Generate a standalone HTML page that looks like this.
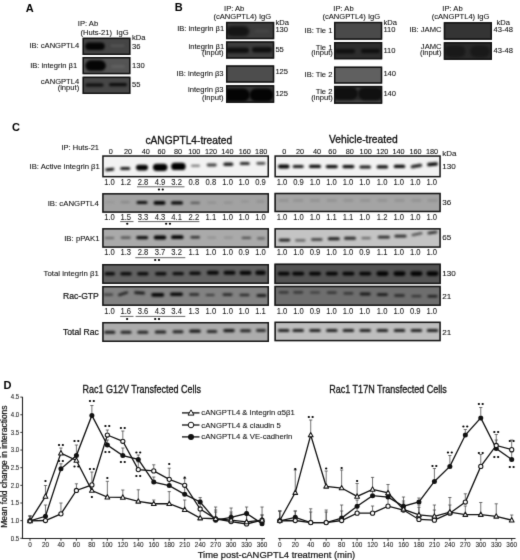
<!DOCTYPE html>
<html><head><meta charset="utf-8"><style>
html,body{margin:0;padding:0;background:#fff;}
body{width:520px;height:560px;overflow:hidden;}
svg{display:block;font-family:"Liberation Sans", sans-serif;}
</style></head><body>
<svg width="520" height="560" viewBox="0 0 520 560">
<defs>
<filter color-interpolation-filters="sRGB" id="bl1" x="-50%" y="-50%" width="200%" height="200%"><feGaussianBlur stdDeviation="0.9"/></filter>
<filter color-interpolation-filters="sRGB" id="bl1.2" x="-50%" y="-50%" width="200%" height="200%"><feGaussianBlur stdDeviation="1.2"/></filter>
<filter color-interpolation-filters="sRGB" id="gb0.7" x="-50%" y="-100%" width="200%" height="300%"><feGaussianBlur stdDeviation="0.95"/></filter>
<filter color-interpolation-filters="sRGB" id="f095" x="-50%" y="-100%" width="200%" height="300%"><feGaussianBlur stdDeviation="0.95"/></filter>
<filter color-interpolation-filters="sRGB" id="f10" x="-50%" y="-100%" width="200%" height="300%"><feGaussianBlur stdDeviation="1.0"/></filter>
<filter color-interpolation-filters="sRGB" id="f12" x="-50%" y="-100%" width="200%" height="300%"><feGaussianBlur stdDeviation="1.2"/></filter>
<filter color-interpolation-filters="sRGB" id="f15" x="-50%" y="-100%" width="200%" height="300%"><feGaussianBlur stdDeviation="1.5"/></filter>
<filter color-interpolation-filters="sRGB" id="bl1.5" x="-50%" y="-50%" width="200%" height="200%"><feGaussianBlur stdDeviation="1.5"/></filter>
<filter color-interpolation-filters="sRGB" id="gid" x="0" y="0" width="520" height="560" filterUnits="userSpaceOnUse"><feColorMatrix type="saturate" values="0"/><feConvolveMatrix order="3" kernelMatrix="1 8 1 8 64 8 1 8 1" divisor="100" edgeMode="duplicate" preserveAlpha="true"/></filter>
</defs>
<g filter="url(#gid)">
<rect x="0" y="0" width="520" height="560" fill="#fff"/>
<text x="25.80" y="11.60" font-size="11" text-anchor="start" font-weight="bold" fill="#000" >A</text>
<text x="88.00" y="26.00" font-size="7.6" text-anchor="middle" font-weight="normal" fill="#111" stroke="#111" stroke-width="0.08" >IP: Ab</text>
<text x="104.50" y="34.50" font-size="7.6" text-anchor="middle" font-weight="normal" fill="#111" stroke="#111" stroke-width="0.08" >(Huts-21)&#160; IgG</text>
<text x="132.00" y="40.20" font-size="7.6" text-anchor="start" font-weight="normal" fill="#111" stroke="#111" stroke-width="0.08" >kDa</text>
<rect x="82.60" y="37.70" width="47.80" height="17.30" fill="#454545" />
<clipPath id="c5"><rect x="82.6" y="37.7" width="47.80000000000001" height="17.299999999999997"/></clipPath><g clip-path="url(#c5)">
<rect x="85.25" y="42.40" width="19.50" height="7.60" rx="3.80" fill="#060606" filter="url(#f12)"/>
<rect x="110.50" y="44.55" width="14.00" height="2.50" rx="1.25" fill="#545454" filter="url(#f10)"/>
</g>
<rect x="83.30" y="38.40" width="46.40" height="15.90" fill="none" stroke="#111" stroke-width="1.4" />
<rect x="82.60" y="57.00" width="47.80" height="17.20" fill="#545454" />
<clipPath id="c11"><rect x="82.6" y="57" width="47.80000000000001" height="17.200000000000003"/></clipPath><g clip-path="url(#c11)">
<rect x="85.35" y="60.35" width="20.50" height="10.50" rx="5.25" fill="#050505" filter="url(#f12)"/>
<rect x="111.00" y="65.00" width="14.00" height="3.00" rx="1.50" fill="#606060" filter="url(#f10)"/>
</g>
<rect x="83.30" y="57.70" width="46.40" height="15.80" fill="none" stroke="#111" stroke-width="1.4" />
<rect x="82.60" y="76.70" width="47.80" height="17.30" fill="#474747" />
<clipPath id="c17"><rect x="82.6" y="76.7" width="47.80000000000001" height="17.299999999999997"/></clipPath><g clip-path="url(#c17)">
<rect x="85.50" y="83.40" width="18.00" height="3.20" rx="1.60" fill="#0c0c0c" filter="url(#f095)"/>
<rect x="109.00" y="83.10" width="18.00" height="3.20" rx="1.60" fill="#0c0c0c" filter="url(#f095)"/>
</g>
<rect x="83.30" y="77.40" width="46.40" height="15.90" fill="none" stroke="#111" stroke-width="1.4" />
<text x="79.20" y="47.70" font-size="7.6" text-anchor="end" font-weight="normal" fill="#111" stroke="#111" stroke-width="0.08" >IB: cANGPTL4</text>
<text x="77.20" y="67.60" font-size="7.6" text-anchor="end" font-weight="normal" fill="#111" stroke="#111" stroke-width="0.08" >IB: integrin β1</text>
<text x="79.20" y="84.00" font-size="7.6" text-anchor="end" font-weight="normal" fill="#111" stroke="#111" stroke-width="0.08" >cANGPTL4</text>
<text x="79.20" y="90.30" font-size="7.6" text-anchor="end" font-weight="normal" fill="#111" stroke="#111" stroke-width="0.08" >(input)</text>
<text x="132.00" y="48.60" font-size="7.6" text-anchor="start" font-weight="normal" fill="#111" stroke="#111" stroke-width="0.08" >36</text>
<text x="132.00" y="68.20" font-size="7.6" text-anchor="start" font-weight="normal" fill="#111" stroke="#111" stroke-width="0.08" >130</text>
<text x="132.00" y="87.00" font-size="7.6" text-anchor="start" font-weight="normal" fill="#111" stroke="#111" stroke-width="0.08" >55</text>
<text x="174.70" y="11.20" font-size="11" text-anchor="start" font-weight="bold" fill="#000" >B</text>
<text x="234.20" y="11.00" font-size="7.6" text-anchor="middle" font-weight="normal" fill="#111" stroke="#111" stroke-width="0.08" >IP: Ab</text>
<text x="242.30" y="19.30" font-size="7.6" text-anchor="middle" font-weight="normal" fill="#111" stroke="#111" stroke-width="0.08" >(cANGPTL4)&#160;IgG</text>
<text x="275.40" y="25.20" font-size="7.6" text-anchor="start" font-weight="normal" fill="#111" stroke="#111" stroke-width="0.08" >kDa</text>
<rect x="226.00" y="21.90" width="48.20" height="17.30" fill="#3d3d3d" />
<clipPath id="c34"><rect x="226" y="21.9" width="48.19999999999999" height="17.300000000000004"/></clipPath><g clip-path="url(#c34)">
<rect x="226.30" y="26.05" width="23.00" height="10.50" rx="5.25" fill="#151515" filter="url(#f15)"/>
<rect x="255.00" y="29.50" width="14.00" height="3.00" rx="1.50" fill="#464646" filter="url(#f10)"/>
</g>
<rect x="226.70" y="22.60" width="46.80" height="15.90" fill="none" stroke="#111" stroke-width="1.4" />
<rect x="226.00" y="41.40" width="48.20" height="17.20" fill="#3d3d3d" />
<clipPath id="c40"><rect x="226" y="41.4" width="48.19999999999999" height="17.200000000000003"/></clipPath><g clip-path="url(#c40)">
<rect x="226.00" y="47.45" width="23.00" height="5.50" rx="2.75" fill="#101010" filter="url(#f12)"/>
<rect x="252.00" y="47.05" width="20.00" height="5.50" rx="2.75" fill="#101010" filter="url(#f12)"/>
</g>
<rect x="226.70" y="42.10" width="46.80" height="15.80" fill="none" stroke="#111" stroke-width="1.4" />
<rect x="226.00" y="65.40" width="48.20" height="17.20" fill="#4d4d4d" />
<clipPath id="c46"><rect x="226" y="65.4" width="48.19999999999999" height="17.19999999999999"/></clipPath><g clip-path="url(#c46)">
</g>
<rect x="226.70" y="66.10" width="46.80" height="15.80" fill="none" stroke="#111" stroke-width="1.4" />
<rect x="226.00" y="85.20" width="48.20" height="17.60" fill="#383838" />
<clipPath id="c50"><rect x="226" y="85.2" width="48.19999999999999" height="17.599999999999994"/></clipPath><g clip-path="url(#c50)">
<rect x="222.80" y="88.50" width="27.00" height="13.00" rx="6.50" fill="#040404" filter="url(#f12)"/>
<rect x="249.60" y="88.50" width="24.00" height="13.00" rx="6.50" fill="#040404" filter="url(#f12)"/>
</g>
<rect x="226.70" y="85.90" width="46.80" height="16.20" fill="none" stroke="#111" stroke-width="1.4" />
<text x="224.20" y="31.30" font-size="7.6" text-anchor="end" font-weight="normal" fill="#111" stroke="#111" stroke-width="0.08" >IB: integrin β1</text>
<text x="224.20" y="48.60" font-size="7.6" text-anchor="end" font-weight="normal" fill="#111" stroke="#111" stroke-width="0.08" >integrin β1</text>
<text x="223.60" y="54.80" font-size="7.6" text-anchor="end" font-weight="normal" fill="#111" stroke="#111" stroke-width="0.08" >(input)</text>
<text x="223.60" y="76.00" font-size="7.6" text-anchor="end" font-weight="normal" fill="#111" stroke="#111" stroke-width="0.08" >IB: integrin β3</text>
<text x="223.60" y="91.80" font-size="7.6" text-anchor="end" font-weight="normal" fill="#111" stroke="#111" stroke-width="0.08" >integrin β3</text>
<text x="223.60" y="100.20" font-size="7.6" text-anchor="end" font-weight="normal" fill="#111" stroke="#111" stroke-width="0.08" >(input)</text>
<text x="275.40" y="32.30" font-size="7.6" text-anchor="start" font-weight="normal" fill="#111" stroke="#111" stroke-width="0.08" >130</text>
<text x="275.40" y="52.00" font-size="7.6" text-anchor="start" font-weight="normal" fill="#111" stroke="#111" stroke-width="0.08" >55</text>
<text x="275.40" y="74.40" font-size="7.6" text-anchor="start" font-weight="normal" fill="#111" stroke="#111" stroke-width="0.08" >125</text>
<text x="275.40" y="96.40" font-size="7.6" text-anchor="start" font-weight="normal" fill="#111" stroke="#111" stroke-width="0.08" >125</text>
<text x="343.50" y="11.00" font-size="7.6" text-anchor="middle" font-weight="normal" fill="#111" stroke="#111" stroke-width="0.08" >IP: Ab</text>
<text x="351.30" y="19.30" font-size="7.6" text-anchor="middle" font-weight="normal" fill="#111" stroke="#111" stroke-width="0.08" >(cANGPTL4)&#160;IgG</text>
<text x="383.40" y="25.20" font-size="7.6" text-anchor="start" font-weight="normal" fill="#111" stroke="#111" stroke-width="0.08" >kDa</text>
<rect x="334.00" y="21.90" width="48.20" height="17.80" fill="#4a4a4a" />
<clipPath id="c69"><rect x="334" y="21.9" width="48.19999999999999" height="17.800000000000004"/></clipPath><g clip-path="url(#c69)">
</g>
<rect x="334.70" y="22.60" width="46.80" height="16.40" fill="none" stroke="#111" stroke-width="1.4" />
<rect x="334.00" y="42.00" width="48.20" height="17.30" fill="#2d2d2d" />
<clipPath id="c73"><rect x="334" y="42.0" width="48.19999999999999" height="17.299999999999997"/></clipPath><g clip-path="url(#c73)">
<rect x="335.00" y="48.95" width="20.00" height="4.50" rx="2.25" fill="#101010" filter="url(#f12)"/>
<rect x="361.00" y="48.75" width="19.00" height="4.50" rx="2.25" fill="#101010" filter="url(#f12)"/>
</g>
<rect x="334.70" y="42.70" width="46.80" height="15.90" fill="none" stroke="#111" stroke-width="1.4" />
<rect x="334.00" y="66.60" width="48.20" height="17.00" fill="#606060" />
<clipPath id="c79"><rect x="334" y="66.6" width="48.19999999999999" height="17.0"/></clipPath><g clip-path="url(#c79)">
</g>
<rect x="334.70" y="67.30" width="46.80" height="15.60" fill="none" stroke="#111" stroke-width="1.4" />
<rect x="334.00" y="85.90" width="48.20" height="17.80" fill="#2a2a2a" />
<clipPath id="c83"><rect x="334" y="85.9" width="48.19999999999999" height="17.799999999999997"/></clipPath><g clip-path="url(#c83)">
<rect x="333.00" y="100.25" width="50.00" height="3.50" rx="1.75" fill="#484848" filter="url(#f12)"/>
<rect x="332.50" y="87.25" width="25.00" height="12.50" rx="6.25" fill="#101010" filter="url(#f12)"/>
<rect x="358.50" y="87.75" width="24.00" height="12.50" rx="6.25" fill="#101010" filter="url(#f12)"/>
<rect x="356.50" y="86.00" width="3.00" height="4.00" rx="2.00" fill="#404040" filter="url(#f10)"/>
</g>
<rect x="334.70" y="86.60" width="46.80" height="16.40" fill="none" stroke="#111" stroke-width="1.4" />
<text x="332.40" y="33.00" font-size="7.6" text-anchor="end" font-weight="normal" fill="#111" stroke="#111" stroke-width="0.08" >IB: Tie 1</text>
<text x="332.40" y="50.00" font-size="7.6" text-anchor="end" font-weight="normal" fill="#111" stroke="#111" stroke-width="0.08" >Tie 1</text>
<text x="332.80" y="55.30" font-size="7.6" text-anchor="end" font-weight="normal" fill="#111" stroke="#111" stroke-width="0.08" >(input)</text>
<text x="332.40" y="77.20" font-size="7.6" text-anchor="end" font-weight="normal" fill="#111" stroke="#111" stroke-width="0.08" >IB: Tie 2</text>
<text x="332.40" y="93.50" font-size="7.6" text-anchor="end" font-weight="normal" fill="#111" stroke="#111" stroke-width="0.08" >Tie 2</text>
<text x="332.80" y="99.80" font-size="7.6" text-anchor="end" font-weight="normal" fill="#111" stroke="#111" stroke-width="0.08" >(input)</text>
<text x="383.40" y="32.30" font-size="7.6" text-anchor="start" font-weight="normal" fill="#111" stroke="#111" stroke-width="0.08" >110</text>
<text x="383.40" y="52.90" font-size="7.6" text-anchor="start" font-weight="normal" fill="#111" stroke="#111" stroke-width="0.08" >110</text>
<text x="383.40" y="76.00" font-size="7.6" text-anchor="start" font-weight="normal" fill="#111" stroke="#111" stroke-width="0.08" >140</text>
<text x="383.40" y="95.70" font-size="7.6" text-anchor="start" font-weight="normal" fill="#111" stroke="#111" stroke-width="0.08" >140</text>
<text x="452.50" y="11.00" font-size="7.6" text-anchor="middle" font-weight="normal" fill="#111" stroke="#111" stroke-width="0.08" >IP: Ab</text>
<text x="460.60" y="19.30" font-size="7.6" text-anchor="middle" font-weight="normal" fill="#111" stroke="#111" stroke-width="0.08" >(cANGPTL4)&#160;IgG</text>
<text x="496.50" y="25.20" font-size="7.6" text-anchor="start" font-weight="normal" fill="#111" stroke="#111" stroke-width="0.08" >kDa</text>
<rect x="443.80" y="22.20" width="48.20" height="17.50" fill="#343434" />
<clipPath id="c104"><rect x="443.8" y="22.2" width="48.19999999999999" height="17.500000000000004"/></clipPath><g clip-path="url(#c104)">
</g>
<rect x="444.50" y="22.90" width="46.80" height="16.10" fill="none" stroke="#111" stroke-width="1.4" />
<rect x="443.80" y="42.20" width="48.20" height="17.60" fill="#2a2a2a" />
<clipPath id="c108"><rect x="443.8" y="42.2" width="48.19999999999999" height="17.599999999999994"/></clipPath><g clip-path="url(#c108)">
<rect x="444.50" y="45.50" width="21.00" height="12.00" rx="6.00" fill="#191919" filter="url(#f15)"/>
<rect x="470.00" y="45.50" width="20.00" height="12.00" rx="6.00" fill="#191919" filter="url(#f15)"/>
</g>
<rect x="444.50" y="42.90" width="46.80" height="16.20" fill="none" stroke="#111" stroke-width="1.4" />
<text x="441.50" y="32.30" font-size="7.6" text-anchor="end" font-weight="normal" fill="#111" stroke="#111" stroke-width="0.08" >IB: JAMC</text>
<text x="441.50" y="48.90" font-size="7.6" text-anchor="end" font-weight="normal" fill="#111" stroke="#111" stroke-width="0.08" >JAMC</text>
<text x="441.50" y="54.60" font-size="7.6" text-anchor="end" font-weight="normal" fill="#111" stroke="#111" stroke-width="0.08" >(input)</text>
<text x="493.50" y="32.30" font-size="7.6" text-anchor="start" font-weight="normal" fill="#111" stroke="#111" stroke-width="0.08" >43-48</text>
<text x="493.50" y="52.60" font-size="7.6" text-anchor="start" font-weight="normal" fill="#111" stroke="#111" stroke-width="0.08" >43-48</text>
<text x="12.00" y="131.00" font-size="11" text-anchor="start" font-weight="bold" fill="#000" >C</text>
<text x="188.80" y="143.50" font-size="10.2" text-anchor="middle" font-weight="normal" fill="#111" stroke="#111" stroke-width="0.3" >cANGPTL4-treated</text>
<text x="363.30" y="143.30" font-size="10.3" text-anchor="middle" font-weight="normal" fill="#111" stroke="#111" stroke-width="0.3" >Vehicle-treated</text>
<text x="99.00" y="150.00" font-size="7.5" text-anchor="end" font-weight="normal" fill="#111" stroke="#111" stroke-width="0.08" >IP: Huts-21</text>
<text x="110.70" y="153.60" font-size="7.3" text-anchor="middle" font-weight="normal" fill="#111" stroke="#111" stroke-width="0.08" >0</text>
<text x="128.00" y="153.60" font-size="7.3" text-anchor="middle" font-weight="normal" fill="#111" stroke="#111" stroke-width="0.08" >20</text>
<text x="145.80" y="153.60" font-size="7.3" text-anchor="middle" font-weight="normal" fill="#111" stroke="#111" stroke-width="0.08" >40</text>
<text x="161.50" y="153.60" font-size="7.3" text-anchor="middle" font-weight="normal" fill="#111" stroke="#111" stroke-width="0.08" >60</text>
<text x="178.10" y="153.60" font-size="7.3" text-anchor="middle" font-weight="normal" fill="#111" stroke="#111" stroke-width="0.08" >80</text>
<text x="194.30" y="153.60" font-size="7.3" text-anchor="middle" font-weight="normal" fill="#111" stroke="#111" stroke-width="0.08" >100</text>
<text x="211.00" y="153.60" font-size="7.3" text-anchor="middle" font-weight="normal" fill="#111" stroke="#111" stroke-width="0.08" >120</text>
<text x="227.40" y="153.60" font-size="7.3" text-anchor="middle" font-weight="normal" fill="#111" stroke="#111" stroke-width="0.08" >140</text>
<text x="244.80" y="153.60" font-size="7.3" text-anchor="middle" font-weight="normal" fill="#111" stroke="#111" stroke-width="0.08" >160</text>
<text x="261.20" y="153.60" font-size="7.3" text-anchor="middle" font-weight="normal" fill="#111" stroke="#111" stroke-width="0.08" >180</text>
<text x="284.30" y="153.60" font-size="7.3" text-anchor="middle" font-weight="normal" fill="#111" stroke="#111" stroke-width="0.08" >0</text>
<text x="300.00" y="153.60" font-size="7.3" text-anchor="middle" font-weight="normal" fill="#111" stroke="#111" stroke-width="0.08" >20</text>
<text x="317.00" y="153.60" font-size="7.3" text-anchor="middle" font-weight="normal" fill="#111" stroke="#111" stroke-width="0.08" >40</text>
<text x="332.40" y="153.60" font-size="7.3" text-anchor="middle" font-weight="normal" fill="#111" stroke="#111" stroke-width="0.08" >60</text>
<text x="349.70" y="153.60" font-size="7.3" text-anchor="middle" font-weight="normal" fill="#111" stroke="#111" stroke-width="0.08" >80</text>
<text x="365.70" y="153.60" font-size="7.3" text-anchor="middle" font-weight="normal" fill="#111" stroke="#111" stroke-width="0.08" >100</text>
<text x="382.30" y="153.60" font-size="7.3" text-anchor="middle" font-weight="normal" fill="#111" stroke="#111" stroke-width="0.08" >120</text>
<text x="398.60" y="153.60" font-size="7.3" text-anchor="middle" font-weight="normal" fill="#111" stroke="#111" stroke-width="0.08" >140</text>
<text x="415.60" y="153.60" font-size="7.3" text-anchor="middle" font-weight="normal" fill="#111" stroke="#111" stroke-width="0.08" >160</text>
<text x="432.00" y="153.60" font-size="7.3" text-anchor="middle" font-weight="normal" fill="#111" stroke="#111" stroke-width="0.08" >180</text>
<text x="442.20" y="156.30" font-size="8.0" text-anchor="start" font-weight="normal" fill="#111" stroke="#111" stroke-width="0.08" >kDa</text>
<rect x="102.20" y="155.30" width="166.80" height="22.10" fill="#f2f2f2" />
<clipPath id="c144"><rect x="102.2" y="155.3" width="166.8" height="22.099999999999994"/></clipPath><g clip-path="url(#c144)">
<rect x="105.30" y="168.10" width="9.00" height="2.80" rx="1.40" fill="#141414" filter="url(#gb0.7)" transform="rotate(-6 109.80 169.50)"/>
<rect x="120.20" y="167.00" width="10.00" height="3.00" rx="1.50" fill="#191919" filter="url(#gb0.7)"/>
<rect x="136.00" y="164.80" width="12.00" height="5.60" rx="2.80" fill="#050505" filter="url(#gb0.7)"/>
<rect x="152.95" y="163.65" width="14.50" height="7.30" rx="3.65" fill="#000000" filter="url(#gb0.7)"/>
<rect x="171.15" y="162.80" width="14.50" height="7.20" rx="3.60" fill="#000000" filter="url(#gb0.7)"/>
<rect x="191.00" y="164.80" width="9.00" height="2.00" rx="1.00" fill="#6e6e6e" filter="url(#gb0.7)"/>
<rect x="206.70" y="163.60" width="10.00" height="2.80" rx="1.40" fill="#3c3c3c" filter="url(#gb0.7)"/>
<rect x="223.30" y="162.45" width="10.00" height="3.50" rx="1.75" fill="#1e1e1e" filter="url(#gb0.7)"/>
<rect x="239.80" y="161.90" width="10.00" height="3.20" rx="1.60" fill="#282828" filter="url(#gb0.7)"/>
<rect x="256.40" y="161.90" width="9.00" height="2.80" rx="1.40" fill="#464646" filter="url(#gb0.7)"/>
</g>
<rect x="102.95" y="156.05" width="165.30" height="20.60" fill="none" stroke="#161616" stroke-width="1.5" />
<rect x="274.40" y="155.30" width="166.40" height="22.10" fill="#f2f2f2" />
<clipPath id="c158"><rect x="274.4" y="155.3" width="166.40000000000003" height="22.099999999999994"/></clipPath><g clip-path="url(#c158)">
<rect x="277.95" y="164.60" width="11.50" height="4.00" rx="2.00" fill="#050505" filter="url(#gb0.7)"/>
<rect x="292.70" y="164.90" width="11.00" height="3.00" rx="1.50" fill="#191919" filter="url(#gb0.7)"/>
<rect x="309.00" y="164.75" width="12.00" height="3.30" rx="1.65" fill="#080808" filter="url(#gb0.7)"/>
<rect x="325.80" y="164.90" width="12.00" height="3.40" rx="1.70" fill="#080808" filter="url(#gb0.7)"/>
<rect x="342.40" y="164.90" width="12.00" height="3.40" rx="1.70" fill="#080808" filter="url(#gb0.7)"/>
<rect x="359.45" y="165.40" width="11.50" height="3.00" rx="1.50" fill="#141414" filter="url(#gb0.7)"/>
<rect x="376.65" y="165.20" width="11.50" height="3.40" rx="1.70" fill="#0c0c0c" filter="url(#gb0.7)"/>
<rect x="393.75" y="164.70" width="11.50" height="3.40" rx="1.70" fill="#080808" filter="url(#gb0.7)"/>
<rect x="410.65" y="164.40" width="11.50" height="3.00" rx="1.50" fill="#0f0f0f" filter="url(#gb0.7)" transform="rotate(-10 416.40 165.90)"/>
<rect x="427.00" y="162.60" width="11.00" height="3.40" rx="1.70" fill="#080808" filter="url(#gb0.7)" transform="rotate(-5 432.50 164.30)"/>
</g>
<rect x="275.15" y="156.05" width="164.90" height="20.60" fill="none" stroke="#161616" stroke-width="1.5" />
<rect x="102.20" y="193.10" width="166.80" height="19.70" fill="#a2a2a2" />
<clipPath id="c172"><rect x="102.2" y="193.1" width="166.8" height="19.700000000000017"/></clipPath><g clip-path="url(#c172)">
<rect x="105.30" y="201.20" width="9.00" height="2.00" rx="1.00" fill="#969696" filter="url(#gb0.7)"/>
<rect x="120.70" y="201.10" width="9.00" height="2.20" rx="1.10" fill="#878787" filter="url(#gb0.7)"/>
<rect x="136.50" y="201.10" width="11.00" height="3.00" rx="1.50" fill="#0f0f0f" filter="url(#gb0.7)"/>
<rect x="153.50" y="201.10" width="12.00" height="3.60" rx="1.80" fill="#030303" filter="url(#gb0.7)"/>
<rect x="171.00" y="201.20" width="12.00" height="3.40" rx="1.70" fill="#050505" filter="url(#gb0.7)"/>
<rect x="190.45" y="201.80" width="9.50" height="2.20" rx="1.10" fill="#5a5a5a" filter="url(#gb0.7)"/>
<rect x="207.20" y="201.70" width="9.00" height="1.80" rx="0.90" fill="#8c8c8c" filter="url(#gb0.7)"/>
<rect x="223.80" y="201.70" width="9.00" height="1.80" rx="0.90" fill="#8c8c8c" filter="url(#gb0.7)"/>
<rect x="241.00" y="200.60" width="8.00" height="1.80" rx="0.90" fill="#919191" filter="url(#gb0.7)"/>
<rect x="256.50" y="200.60" width="8.00" height="1.80" rx="0.90" fill="#8c8c8c" filter="url(#gb0.7)"/>
</g>
<rect x="102.95" y="193.85" width="165.30" height="18.20" fill="none" stroke="#161616" stroke-width="1.5" />
<rect x="274.40" y="192.80" width="166.40" height="19.40" fill="#a4a4a4" />
<clipPath id="c186"><rect x="274.4" y="192.8" width="166.40000000000003" height="19.399999999999977"/></clipPath><g clip-path="url(#c186)">
<rect x="278.70" y="199.40" width="10.00" height="2.20" rx="1.10" fill="#8c8c8c" filter="url(#gb0.7)"/>
<rect x="293.20" y="199.40" width="10.00" height="2.20" rx="1.10" fill="#8c8c8c" filter="url(#gb0.7)"/>
<rect x="310.00" y="199.40" width="10.00" height="2.20" rx="1.10" fill="#8c8c8c" filter="url(#gb0.7)"/>
<rect x="326.80" y="199.40" width="10.00" height="2.20" rx="1.10" fill="#8c8c8c" filter="url(#gb0.7)"/>
<rect x="343.40" y="199.40" width="10.00" height="2.20" rx="1.10" fill="#8c8c8c" filter="url(#gb0.7)"/>
<rect x="360.20" y="199.40" width="10.00" height="2.20" rx="1.10" fill="#8c8c8c" filter="url(#gb0.7)"/>
<rect x="377.40" y="199.40" width="10.00" height="2.20" rx="1.10" fill="#8c8c8c" filter="url(#gb0.7)"/>
<rect x="394.50" y="199.40" width="10.00" height="2.20" rx="1.10" fill="#8c8c8c" filter="url(#gb0.7)"/>
<rect x="411.40" y="199.40" width="10.00" height="2.20" rx="1.10" fill="#8c8c8c" filter="url(#gb0.7)"/>
<rect x="427.50" y="199.40" width="10.00" height="2.20" rx="1.10" fill="#8c8c8c" filter="url(#gb0.7)"/>
</g>
<rect x="275.15" y="193.55" width="164.90" height="17.90" fill="none" stroke="#161616" stroke-width="1.5" />
<rect x="102.20" y="228.10" width="166.80" height="19.70" fill="#aaaaaa" />
<clipPath id="c200"><rect x="102.2" y="228.1" width="166.8" height="19.700000000000017"/></clipPath><g clip-path="url(#c200)">
<rect x="104.75" y="236.90" width="9.50" height="2.00" rx="1.00" fill="#646464" filter="url(#gb0.7)"/>
<rect x="120.70" y="236.40" width="10.00" height="2.40" rx="1.20" fill="#4b4b4b" filter="url(#gb0.7)"/>
<rect x="136.20" y="236.00" width="12.00" height="3.20" rx="1.60" fill="#0f0f0f" filter="url(#gb0.7)"/>
<rect x="153.75" y="235.60" width="12.50" height="4.00" rx="2.00" fill="#030303" filter="url(#gb0.7)"/>
<rect x="171.05" y="235.30" width="12.50" height="3.80" rx="1.90" fill="#030303" filter="url(#gb0.7)"/>
<rect x="190.45" y="236.00" width="9.50" height="2.40" rx="1.20" fill="#2d2d2d" filter="url(#gb0.7)"/>
<rect x="207.20" y="236.70" width="9.00" height="1.80" rx="0.90" fill="#8c8c8c" filter="url(#gb0.7)"/>
<rect x="223.80" y="236.70" width="9.00" height="1.80" rx="0.90" fill="#8c8c8c" filter="url(#gb0.7)"/>
<rect x="241.55" y="236.80" width="9.50" height="2.20" rx="1.10" fill="#505050" filter="url(#gb0.7)"/>
<rect x="257.00" y="237.30" width="8.00" height="2.20" rx="1.10" fill="#5f5f5f" filter="url(#gb0.7)"/>
</g>
<rect x="102.95" y="228.85" width="165.30" height="18.20" fill="none" stroke="#161616" stroke-width="1.5" />
<rect x="274.40" y="228.10" width="166.40" height="19.70" fill="#c4c4c4" />
<clipPath id="c214"><rect x="274.4" y="228.1" width="166.40000000000003" height="19.700000000000017"/></clipPath><g clip-path="url(#c214)">
<rect x="278.75" y="238.70" width="11.50" height="2.80" rx="1.40" fill="#191919" filter="url(#gb0.7)"/>
<rect x="295.05" y="239.30" width="10.50" height="2.20" rx="1.10" fill="#5a5a5a" filter="url(#gb0.7)"/>
<rect x="311.05" y="238.20" width="11.50" height="2.60" rx="1.30" fill="#373737" filter="url(#gb0.7)"/>
<rect x="327.80" y="237.30" width="12.00" height="3.00" rx="1.50" fill="#191919" filter="url(#gb0.7)"/>
<rect x="344.00" y="236.70" width="12.00" height="3.00" rx="1.50" fill="#282828" filter="url(#gb0.7)"/>
<rect x="361.35" y="237.10" width="9.50" height="2.20" rx="1.10" fill="#696969" filter="url(#gb0.7)"/>
<rect x="377.80" y="235.80" width="12.00" height="2.80" rx="1.40" fill="#282828" filter="url(#gb0.7)"/>
<rect x="394.50" y="234.80" width="12.00" height="2.80" rx="1.40" fill="#282828" filter="url(#gb0.7)"/>
<rect x="411.50" y="233.10" width="11.00" height="2.20" rx="1.10" fill="#464646" filter="url(#gb0.7)" transform="rotate(-12 417.00 234.20)"/>
<rect x="427.40" y="231.30" width="10.00" height="2.60" rx="1.30" fill="#323232" filter="url(#gb0.7)" transform="rotate(-8 432.40 232.60)"/>
</g>
<rect x="275.15" y="228.85" width="164.90" height="18.20" fill="none" stroke="#161616" stroke-width="1.5" />
<rect x="102.20" y="264.00" width="166.80" height="19.90" fill="#626262" />
<clipPath id="c228"><rect x="102.2" y="264.0" width="166.8" height="19.899999999999977"/></clipPath><g clip-path="url(#c228)">
<rect x="104.55" y="272.10" width="10.50" height="3.40" rx="1.70" fill="#0c0c0c" filter="url(#gb0.7)"/>
<rect x="120.25" y="272.10" width="11.50" height="3.40" rx="1.70" fill="#0c0c0c" filter="url(#gb0.7)"/>
<rect x="137.05" y="272.10" width="11.50" height="3.40" rx="1.70" fill="#0c0c0c" filter="url(#gb0.7)"/>
<rect x="155.05" y="272.10" width="11.50" height="3.40" rx="1.70" fill="#0c0c0c" filter="url(#gb0.7)"/>
<rect x="172.45" y="271.90" width="11.50" height="3.40" rx="1.70" fill="#0c0c0c" filter="url(#gb0.7)"/>
<rect x="189.25" y="271.50" width="11.50" height="3.60" rx="1.80" fill="#0a0a0a" filter="url(#gb0.7)"/>
<rect x="206.80" y="270.80" width="12.00" height="4.00" rx="2.00" fill="#080808" filter="url(#gb0.7)"/>
<rect x="223.50" y="270.80" width="12.00" height="4.00" rx="2.00" fill="#080808" filter="url(#gb0.7)"/>
<rect x="239.50" y="270.70" width="12.00" height="4.20" rx="2.10" fill="#080808" filter="url(#gb0.7)"/>
<rect x="255.25" y="270.60" width="10.50" height="4.40" rx="2.20" fill="#080808" filter="url(#gb0.7)"/>
</g>
<rect x="102.95" y="264.75" width="165.30" height="18.40" fill="none" stroke="#161616" stroke-width="1.5" />
<rect x="274.40" y="263.60" width="166.40" height="20.50" fill="#535353" />
<clipPath id="c242"><rect x="274.4" y="263.6" width="166.40000000000003" height="20.5"/></clipPath><g clip-path="url(#c242)">
<rect x="277.70" y="271.70" width="12.00" height="3.80" rx="1.90" fill="#050505" filter="url(#gb0.7)"/>
<rect x="292.20" y="271.70" width="12.00" height="3.80" rx="1.90" fill="#050505" filter="url(#gb0.7)"/>
<rect x="309.00" y="271.70" width="12.00" height="3.80" rx="1.90" fill="#050505" filter="url(#gb0.7)"/>
<rect x="325.80" y="271.70" width="12.00" height="3.80" rx="1.90" fill="#050505" filter="url(#gb0.7)"/>
<rect x="342.40" y="271.70" width="12.00" height="3.80" rx="1.90" fill="#050505" filter="url(#gb0.7)"/>
<rect x="359.20" y="271.70" width="12.00" height="3.80" rx="1.90" fill="#050505" filter="url(#gb0.7)"/>
<rect x="376.40" y="271.30" width="12.00" height="4.60" rx="2.30" fill="#050505" filter="url(#gb0.7)"/>
<rect x="393.50" y="271.30" width="12.00" height="4.60" rx="2.30" fill="#050505" filter="url(#gb0.7)"/>
<rect x="410.40" y="271.30" width="12.00" height="4.60" rx="2.30" fill="#050505" filter="url(#gb0.7)"/>
<rect x="426.50" y="271.30" width="12.00" height="4.60" rx="2.30" fill="#050505" filter="url(#gb0.7)"/>
</g>
<rect x="275.15" y="264.35" width="164.90" height="19.00" fill="none" stroke="#161616" stroke-width="1.5" />
<rect x="102.20" y="286.00" width="166.80" height="19.90" fill="#828282" />
<clipPath id="c256"><rect x="102.2" y="286.0" width="166.8" height="19.899999999999977"/></clipPath><g clip-path="url(#c256)">
<rect x="103.65" y="293.50" width="9.50" height="2.20" rx="1.10" fill="#3c3c3c" filter="url(#gb0.7)"/>
<rect x="117.85" y="292.50" width="10.50" height="2.60" rx="1.30" fill="#1e1e1e" filter="url(#gb0.7)" transform="rotate(-18 123.10 293.80)"/>
<rect x="134.10" y="291.40" width="11.00" height="2.80" rx="1.40" fill="#141414" filter="url(#gb0.7)" transform="rotate(4 139.60 292.80)"/>
<rect x="151.20" y="292.90" width="13.00" height="3.80" rx="1.90" fill="#050505" filter="url(#gb0.7)"/>
<rect x="170.00" y="292.40" width="13.00" height="3.60" rx="1.80" fill="#080808" filter="url(#gb0.7)"/>
<rect x="189.20" y="293.20" width="10.00" height="2.60" rx="1.30" fill="#232323" filter="url(#gb0.7)"/>
<rect x="205.70" y="293.90" width="9.00" height="2.20" rx="1.10" fill="#373737" filter="url(#gb0.7)"/>
<rect x="222.50" y="293.30" width="10.00" height="2.60" rx="1.30" fill="#282828" filter="url(#gb0.7)"/>
<rect x="239.50" y="293.70" width="10.00" height="2.60" rx="1.30" fill="#282828" filter="url(#gb0.7)"/>
<rect x="256.50" y="294.00" width="10.00" height="3.00" rx="1.50" fill="#1e1e1e" filter="url(#gb0.7)"/>
</g>
<rect x="102.95" y="286.75" width="165.30" height="18.40" fill="none" stroke="#161616" stroke-width="1.5" />
<rect x="274.40" y="285.80" width="166.40" height="20.10" fill="#6e6e6e" />
<clipPath id="c270"><rect x="274.4" y="285.8" width="166.40000000000003" height="20.099999999999966"/></clipPath><g clip-path="url(#c270)">
<rect x="278.70" y="291.20" width="10.00" height="2.20" rx="1.10" fill="#2d2d2d" filter="url(#gb0.7)"/>
<rect x="293.20" y="291.20" width="10.00" height="2.20" rx="1.10" fill="#2d2d2d" filter="url(#gb0.7)"/>
<rect x="310.00" y="291.60" width="10.00" height="2.00" rx="1.00" fill="#373737" filter="url(#gb0.7)"/>
<rect x="326.80" y="291.50" width="10.00" height="2.20" rx="1.10" fill="#2d2d2d" filter="url(#gb0.7)"/>
<rect x="343.40" y="292.20" width="10.00" height="2.20" rx="1.10" fill="#2d2d2d" filter="url(#gb0.7)"/>
<rect x="359.70" y="292.60" width="11.00" height="2.80" rx="1.40" fill="#191919" filter="url(#gb0.7)"/>
<rect x="376.90" y="293.20" width="11.00" height="2.80" rx="1.40" fill="#191919" filter="url(#gb0.7)"/>
<rect x="394.25" y="294.20" width="10.50" height="2.60" rx="1.30" fill="#232323" filter="url(#gb0.7)"/>
<rect x="411.40" y="295.10" width="10.00" height="2.20" rx="1.10" fill="#323232" filter="url(#gb0.7)"/>
<rect x="427.50" y="294.90" width="10.00" height="2.60" rx="1.30" fill="#1e1e1e" filter="url(#gb0.7)"/>
</g>
<rect x="275.15" y="286.55" width="164.90" height="18.60" fill="none" stroke="#161616" stroke-width="1.5" />
<rect x="102.20" y="322.00" width="166.80" height="20.00" fill="#acacac" />
<clipPath id="c284"><rect x="102.2" y="322.0" width="166.8" height="20.0"/></clipPath><g clip-path="url(#c284)">
<rect x="104.30" y="330.80" width="11.00" height="3.00" rx="1.50" fill="#1e1e1e" filter="url(#gb0.7)"/>
<rect x="120.50" y="330.70" width="11.00" height="3.00" rx="1.50" fill="#232323" filter="url(#gb0.7)"/>
<rect x="137.30" y="330.70" width="11.00" height="3.00" rx="1.50" fill="#232323" filter="url(#gb0.7)"/>
<rect x="154.75" y="330.60" width="11.50" height="3.00" rx="1.50" fill="#1e1e1e" filter="url(#gb0.7)"/>
<rect x="172.50" y="330.30" width="11.00" height="3.00" rx="1.50" fill="#232323" filter="url(#gb0.7)"/>
<rect x="189.25" y="329.60" width="11.50" height="3.20" rx="1.60" fill="#191919" filter="url(#gb0.7)"/>
<rect x="206.75" y="330.00" width="10.50" height="3.00" rx="1.50" fill="#282828" filter="url(#gb0.7)"/>
<rect x="223.25" y="329.00" width="11.50" height="3.20" rx="1.60" fill="#191919" filter="url(#gb0.7)"/>
<rect x="240.00" y="329.30" width="11.00" height="3.00" rx="1.50" fill="#232323" filter="url(#gb0.7)"/>
<rect x="256.00" y="329.10" width="10.00" height="2.80" rx="1.40" fill="#2d2d2d" filter="url(#gb0.7)"/>
</g>
<rect x="102.95" y="322.75" width="165.30" height="18.50" fill="none" stroke="#161616" stroke-width="1.5" />
<rect x="274.40" y="321.60" width="166.40" height="19.70" fill="#bebebe" />
<clipPath id="c298"><rect x="274.4" y="321.6" width="166.40000000000003" height="19.69999999999999"/></clipPath><g clip-path="url(#c298)">
<rect x="277.95" y="329.10" width="11.50" height="3.00" rx="1.50" fill="#202020" filter="url(#gb0.7)"/>
<rect x="292.45" y="329.10" width="11.50" height="3.00" rx="1.50" fill="#202020" filter="url(#gb0.7)"/>
<rect x="309.25" y="329.10" width="11.50" height="3.00" rx="1.50" fill="#202020" filter="url(#gb0.7)"/>
<rect x="326.05" y="329.10" width="11.50" height="3.00" rx="1.50" fill="#202020" filter="url(#gb0.7)"/>
<rect x="342.65" y="329.10" width="11.50" height="3.00" rx="1.50" fill="#202020" filter="url(#gb0.7)"/>
<rect x="359.45" y="329.10" width="11.50" height="3.00" rx="1.50" fill="#202020" filter="url(#gb0.7)"/>
<rect x="376.65" y="329.10" width="11.50" height="3.00" rx="1.50" fill="#202020" filter="url(#gb0.7)"/>
<rect x="393.75" y="329.10" width="11.50" height="3.00" rx="1.50" fill="#202020" filter="url(#gb0.7)"/>
<rect x="410.65" y="329.10" width="11.50" height="3.00" rx="1.50" fill="#202020" filter="url(#gb0.7)"/>
<rect x="426.75" y="329.10" width="11.50" height="3.00" rx="1.50" fill="#202020" filter="url(#gb0.7)"/>
</g>
<rect x="275.15" y="322.35" width="164.90" height="18.20" fill="none" stroke="#161616" stroke-width="1.5" />
<text x="99.80" y="168.60" font-size="7.7" text-anchor="end" font-weight="normal" fill="#111" stroke="#111" stroke-width="0.08" >IB: Active integrin β1</text>
<text x="98.80" y="205.70" font-size="7.8" text-anchor="end" font-weight="normal" fill="#111" stroke="#111" stroke-width="0.08" >IB: cANGPTL4</text>
<text x="99.60" y="240.80" font-size="7.8" text-anchor="end" font-weight="normal" fill="#111" stroke="#111" stroke-width="0.08" >IB: pPAK1</text>
<text x="98.80" y="276.00" font-size="7.8" text-anchor="end" font-weight="normal" fill="#111" stroke="#111" stroke-width="0.08" >Total integrin β1</text>
<text x="98.80" y="298.50" font-size="8.6" text-anchor="end" font-weight="normal" fill="#111" stroke="#111" stroke-width="0.2" >Rac-GTP</text>
<text x="98.80" y="334.50" font-size="8.6" text-anchor="end" font-weight="normal" fill="#111" stroke="#111" stroke-width="0.2" >Total Rac</text>
<text x="442.20" y="168.60" font-size="8.1" text-anchor="start" font-weight="normal" fill="#111" stroke="#111" stroke-width="0.08" >130</text>
<text x="442.20" y="205.00" font-size="8.1" text-anchor="start" font-weight="normal" fill="#111" stroke="#111" stroke-width="0.08" >36</text>
<text x="442.20" y="240.20" font-size="8.1" text-anchor="start" font-weight="normal" fill="#111" stroke="#111" stroke-width="0.08" >65</text>
<text x="442.20" y="276.00" font-size="8.1" text-anchor="start" font-weight="normal" fill="#111" stroke="#111" stroke-width="0.08" >130</text>
<text x="442.20" y="299.00" font-size="8.1" text-anchor="start" font-weight="normal" fill="#111" stroke="#111" stroke-width="0.08" >21</text>
<text x="442.20" y="334.60" font-size="8.1" text-anchor="start" font-weight="normal" fill="#111" stroke="#111" stroke-width="0.08" >21</text>
<text transform="translate(109.50,184.60) scale(0.9,1)" font-size="8.5" text-anchor="middle" fill="#1a1a1a" stroke="#1a1a1a" stroke-width="0.08">1.0</text>
<text transform="translate(125.80,184.60) scale(0.9,1)" font-size="8.5" text-anchor="middle" fill="#1a1a1a" stroke="#1a1a1a" stroke-width="0.08">1.2</text>
<text transform="translate(143.00,184.60) scale(0.9,1)" font-size="8.5" text-anchor="middle" fill="#1a1a1a" stroke="#1a1a1a" stroke-width="0.08">2.8</text>
<text transform="translate(160.00,184.60) scale(0.9,1)" font-size="8.5" text-anchor="middle" fill="#1a1a1a" stroke="#1a1a1a" stroke-width="0.08">4.9</text>
<text transform="translate(176.60,184.60) scale(0.9,1)" font-size="8.5" text-anchor="middle" fill="#1a1a1a" stroke="#1a1a1a" stroke-width="0.08">3.2</text>
<text transform="translate(193.90,184.60) scale(0.9,1)" font-size="8.5" text-anchor="middle" fill="#1a1a1a" stroke="#1a1a1a" stroke-width="0.08">0.8</text>
<text transform="translate(210.90,184.60) scale(0.9,1)" font-size="8.5" text-anchor="middle" fill="#1a1a1a" stroke="#1a1a1a" stroke-width="0.08">0.8</text>
<text transform="translate(227.60,184.60) scale(0.9,1)" font-size="8.5" text-anchor="middle" fill="#1a1a1a" stroke="#1a1a1a" stroke-width="0.08">1.0</text>
<text transform="translate(243.90,184.60) scale(0.9,1)" font-size="8.5" text-anchor="middle" fill="#1a1a1a" stroke="#1a1a1a" stroke-width="0.08">1.0</text>
<text transform="translate(260.50,184.60) scale(0.9,1)" font-size="8.5" text-anchor="middle" fill="#1a1a1a" stroke="#1a1a1a" stroke-width="0.08">0.9</text>
<text transform="translate(282.00,184.60) scale(0.9,1)" font-size="8.5" text-anchor="middle" fill="#1a1a1a" stroke="#1a1a1a" stroke-width="0.08">1.0</text>
<text transform="translate(298.50,184.60) scale(0.9,1)" font-size="8.5" text-anchor="middle" fill="#1a1a1a" stroke="#1a1a1a" stroke-width="0.08">0.9</text>
<text transform="translate(315.00,184.60) scale(0.9,1)" font-size="8.5" text-anchor="middle" fill="#1a1a1a" stroke="#1a1a1a" stroke-width="0.08">1.0</text>
<text transform="translate(331.50,184.60) scale(0.9,1)" font-size="8.5" text-anchor="middle" fill="#1a1a1a" stroke="#1a1a1a" stroke-width="0.08">1.0</text>
<text transform="translate(348.00,184.60) scale(0.9,1)" font-size="8.5" text-anchor="middle" fill="#1a1a1a" stroke="#1a1a1a" stroke-width="0.08">1.0</text>
<text transform="translate(364.60,184.60) scale(0.9,1)" font-size="8.5" text-anchor="middle" fill="#1a1a1a" stroke="#1a1a1a" stroke-width="0.08">1.0</text>
<text transform="translate(382.10,184.60) scale(0.9,1)" font-size="8.5" text-anchor="middle" fill="#1a1a1a" stroke="#1a1a1a" stroke-width="0.08">1.0</text>
<text transform="translate(398.70,184.60) scale(0.9,1)" font-size="8.5" text-anchor="middle" fill="#1a1a1a" stroke="#1a1a1a" stroke-width="0.08">1.0</text>
<text transform="translate(415.20,184.60) scale(0.9,1)" font-size="8.5" text-anchor="middle" fill="#1a1a1a" stroke="#1a1a1a" stroke-width="0.08">1.0</text>
<text transform="translate(431.80,184.60) scale(0.9,1)" font-size="8.5" text-anchor="middle" fill="#1a1a1a" stroke="#1a1a1a" stroke-width="0.08">1.0</text>
<text transform="translate(109.50,219.50) scale(0.9,1)" font-size="8.5" text-anchor="middle" fill="#1a1a1a" stroke="#1a1a1a" stroke-width="0.08">1.0</text>
<text transform="translate(125.80,219.50) scale(0.9,1)" font-size="8.5" text-anchor="middle" fill="#1a1a1a" stroke="#1a1a1a" stroke-width="0.08">1.5</text>
<text transform="translate(143.00,219.50) scale(0.9,1)" font-size="8.5" text-anchor="middle" fill="#1a1a1a" stroke="#1a1a1a" stroke-width="0.08">3.3</text>
<text transform="translate(160.00,219.50) scale(0.9,1)" font-size="8.5" text-anchor="middle" fill="#1a1a1a" stroke="#1a1a1a" stroke-width="0.08">4.3</text>
<text transform="translate(176.60,219.50) scale(0.9,1)" font-size="8.5" text-anchor="middle" fill="#1a1a1a" stroke="#1a1a1a" stroke-width="0.08">4.1</text>
<text transform="translate(193.90,219.50) scale(0.9,1)" font-size="8.5" text-anchor="middle" fill="#1a1a1a" stroke="#1a1a1a" stroke-width="0.08">2.2</text>
<text transform="translate(210.90,219.50) scale(0.9,1)" font-size="8.5" text-anchor="middle" fill="#1a1a1a" stroke="#1a1a1a" stroke-width="0.08">1.1</text>
<text transform="translate(227.60,219.50) scale(0.9,1)" font-size="8.5" text-anchor="middle" fill="#1a1a1a" stroke="#1a1a1a" stroke-width="0.08">1.0</text>
<text transform="translate(243.90,219.50) scale(0.9,1)" font-size="8.5" text-anchor="middle" fill="#1a1a1a" stroke="#1a1a1a" stroke-width="0.08">1.0</text>
<text transform="translate(260.50,219.50) scale(0.9,1)" font-size="8.5" text-anchor="middle" fill="#1a1a1a" stroke="#1a1a1a" stroke-width="0.08">1.0</text>
<text transform="translate(282.00,219.50) scale(0.9,1)" font-size="8.5" text-anchor="middle" fill="#1a1a1a" stroke="#1a1a1a" stroke-width="0.08">1.0</text>
<text transform="translate(298.50,219.50) scale(0.9,1)" font-size="8.5" text-anchor="middle" fill="#1a1a1a" stroke="#1a1a1a" stroke-width="0.08">1.0</text>
<text transform="translate(315.00,219.50) scale(0.9,1)" font-size="8.5" text-anchor="middle" fill="#1a1a1a" stroke="#1a1a1a" stroke-width="0.08">1.0</text>
<text transform="translate(331.50,219.50) scale(0.9,1)" font-size="8.5" text-anchor="middle" fill="#1a1a1a" stroke="#1a1a1a" stroke-width="0.08">1.1</text>
<text transform="translate(348.00,219.50) scale(0.9,1)" font-size="8.5" text-anchor="middle" fill="#1a1a1a" stroke="#1a1a1a" stroke-width="0.08">1.1</text>
<text transform="translate(364.60,219.50) scale(0.9,1)" font-size="8.5" text-anchor="middle" fill="#1a1a1a" stroke="#1a1a1a" stroke-width="0.08">1.0</text>
<text transform="translate(382.10,219.50) scale(0.9,1)" font-size="8.5" text-anchor="middle" fill="#1a1a1a" stroke="#1a1a1a" stroke-width="0.08">1.2</text>
<text transform="translate(398.70,219.50) scale(0.9,1)" font-size="8.5" text-anchor="middle" fill="#1a1a1a" stroke="#1a1a1a" stroke-width="0.08">1.0</text>
<text transform="translate(415.20,219.50) scale(0.9,1)" font-size="8.5" text-anchor="middle" fill="#1a1a1a" stroke="#1a1a1a" stroke-width="0.08">1.0</text>
<text transform="translate(431.80,219.50) scale(0.9,1)" font-size="8.5" text-anchor="middle" fill="#1a1a1a" stroke="#1a1a1a" stroke-width="0.08">1.0</text>
<text transform="translate(109.50,255.30) scale(0.9,1)" font-size="8.5" text-anchor="middle" fill="#1a1a1a" stroke="#1a1a1a" stroke-width="0.08">1.0</text>
<text transform="translate(125.80,255.30) scale(0.9,1)" font-size="8.5" text-anchor="middle" fill="#1a1a1a" stroke="#1a1a1a" stroke-width="0.08">1.3</text>
<text transform="translate(143.00,255.30) scale(0.9,1)" font-size="8.5" text-anchor="middle" fill="#1a1a1a" stroke="#1a1a1a" stroke-width="0.08">2.8</text>
<text transform="translate(160.00,255.30) scale(0.9,1)" font-size="8.5" text-anchor="middle" fill="#1a1a1a" stroke="#1a1a1a" stroke-width="0.08">3.7</text>
<text transform="translate(176.60,255.30) scale(0.9,1)" font-size="8.5" text-anchor="middle" fill="#1a1a1a" stroke="#1a1a1a" stroke-width="0.08">3.2</text>
<text transform="translate(193.90,255.30) scale(0.9,1)" font-size="8.5" text-anchor="middle" fill="#1a1a1a" stroke="#1a1a1a" stroke-width="0.08">1.1</text>
<text transform="translate(210.90,255.30) scale(0.9,1)" font-size="8.5" text-anchor="middle" fill="#1a1a1a" stroke="#1a1a1a" stroke-width="0.08">1.0</text>
<text transform="translate(227.60,255.30) scale(0.9,1)" font-size="8.5" text-anchor="middle" fill="#1a1a1a" stroke="#1a1a1a" stroke-width="0.08">1.0</text>
<text transform="translate(243.90,255.30) scale(0.9,1)" font-size="8.5" text-anchor="middle" fill="#1a1a1a" stroke="#1a1a1a" stroke-width="0.08">0.9</text>
<text transform="translate(260.50,255.30) scale(0.9,1)" font-size="8.5" text-anchor="middle" fill="#1a1a1a" stroke="#1a1a1a" stroke-width="0.08">1.0</text>
<text transform="translate(282.00,255.30) scale(0.9,1)" font-size="8.5" text-anchor="middle" fill="#1a1a1a" stroke="#1a1a1a" stroke-width="0.08">1.0</text>
<text transform="translate(298.50,255.30) scale(0.9,1)" font-size="8.5" text-anchor="middle" fill="#1a1a1a" stroke="#1a1a1a" stroke-width="0.08">1.0</text>
<text transform="translate(315.00,255.30) scale(0.9,1)" font-size="8.5" text-anchor="middle" fill="#1a1a1a" stroke="#1a1a1a" stroke-width="0.08">0.9</text>
<text transform="translate(331.50,255.30) scale(0.9,1)" font-size="8.5" text-anchor="middle" fill="#1a1a1a" stroke="#1a1a1a" stroke-width="0.08">1.0</text>
<text transform="translate(348.00,255.30) scale(0.9,1)" font-size="8.5" text-anchor="middle" fill="#1a1a1a" stroke="#1a1a1a" stroke-width="0.08">1.0</text>
<text transform="translate(364.60,255.30) scale(0.9,1)" font-size="8.5" text-anchor="middle" fill="#1a1a1a" stroke="#1a1a1a" stroke-width="0.08">0.9</text>
<text transform="translate(382.10,255.30) scale(0.9,1)" font-size="8.5" text-anchor="middle" fill="#1a1a1a" stroke="#1a1a1a" stroke-width="0.08">1.1</text>
<text transform="translate(398.70,255.30) scale(0.9,1)" font-size="8.5" text-anchor="middle" fill="#1a1a1a" stroke="#1a1a1a" stroke-width="0.08">1.0</text>
<text transform="translate(415.20,255.30) scale(0.9,1)" font-size="8.5" text-anchor="middle" fill="#1a1a1a" stroke="#1a1a1a" stroke-width="0.08">1.0</text>
<text transform="translate(431.80,255.30) scale(0.9,1)" font-size="8.5" text-anchor="middle" fill="#1a1a1a" stroke="#1a1a1a" stroke-width="0.08">1.0</text>
<text transform="translate(109.50,314.20) scale(0.9,1)" font-size="8.5" text-anchor="middle" fill="#1a1a1a" stroke="#1a1a1a" stroke-width="0.08">1.0</text>
<text transform="translate(125.80,314.20) scale(0.9,1)" font-size="8.5" text-anchor="middle" fill="#1a1a1a" stroke="#1a1a1a" stroke-width="0.08">1.6</text>
<text transform="translate(143.00,314.20) scale(0.9,1)" font-size="8.5" text-anchor="middle" fill="#1a1a1a" stroke="#1a1a1a" stroke-width="0.08">3.6</text>
<text transform="translate(160.00,314.20) scale(0.9,1)" font-size="8.5" text-anchor="middle" fill="#1a1a1a" stroke="#1a1a1a" stroke-width="0.08">4.3</text>
<text transform="translate(176.60,314.20) scale(0.9,1)" font-size="8.5" text-anchor="middle" fill="#1a1a1a" stroke="#1a1a1a" stroke-width="0.08">3.4</text>
<text transform="translate(193.90,314.20) scale(0.9,1)" font-size="8.5" text-anchor="middle" fill="#1a1a1a" stroke="#1a1a1a" stroke-width="0.08">1.3</text>
<text transform="translate(210.90,314.20) scale(0.9,1)" font-size="8.5" text-anchor="middle" fill="#1a1a1a" stroke="#1a1a1a" stroke-width="0.08">1.0</text>
<text transform="translate(227.60,314.20) scale(0.9,1)" font-size="8.5" text-anchor="middle" fill="#1a1a1a" stroke="#1a1a1a" stroke-width="0.08">1.0</text>
<text transform="translate(243.90,314.20) scale(0.9,1)" font-size="8.5" text-anchor="middle" fill="#1a1a1a" stroke="#1a1a1a" stroke-width="0.08">1.0</text>
<text transform="translate(260.50,314.20) scale(0.9,1)" font-size="8.5" text-anchor="middle" fill="#1a1a1a" stroke="#1a1a1a" stroke-width="0.08">1.1</text>
<text transform="translate(282.00,314.20) scale(0.9,1)" font-size="8.5" text-anchor="middle" fill="#1a1a1a" stroke="#1a1a1a" stroke-width="0.08">1.0</text>
<text transform="translate(298.50,314.20) scale(0.9,1)" font-size="8.5" text-anchor="middle" fill="#1a1a1a" stroke="#1a1a1a" stroke-width="0.08">1.0</text>
<text transform="translate(315.00,314.20) scale(0.9,1)" font-size="8.5" text-anchor="middle" fill="#1a1a1a" stroke="#1a1a1a" stroke-width="0.08">0.9</text>
<text transform="translate(331.50,314.20) scale(0.9,1)" font-size="8.5" text-anchor="middle" fill="#1a1a1a" stroke="#1a1a1a" stroke-width="0.08">1.0</text>
<text transform="translate(348.00,314.20) scale(0.9,1)" font-size="8.5" text-anchor="middle" fill="#1a1a1a" stroke="#1a1a1a" stroke-width="0.08">1.0</text>
<text transform="translate(364.60,314.20) scale(0.9,1)" font-size="8.5" text-anchor="middle" fill="#1a1a1a" stroke="#1a1a1a" stroke-width="0.08">1.0</text>
<text transform="translate(382.10,314.20) scale(0.9,1)" font-size="8.5" text-anchor="middle" fill="#1a1a1a" stroke="#1a1a1a" stroke-width="0.08">1.0</text>
<text transform="translate(398.70,314.20) scale(0.9,1)" font-size="8.5" text-anchor="middle" fill="#1a1a1a" stroke="#1a1a1a" stroke-width="0.08">1.0</text>
<text transform="translate(415.20,314.20) scale(0.9,1)" font-size="8.5" text-anchor="middle" fill="#1a1a1a" stroke="#1a1a1a" stroke-width="0.08">0.9</text>
<text transform="translate(431.80,314.20) scale(0.9,1)" font-size="8.5" text-anchor="middle" fill="#1a1a1a" stroke="#1a1a1a" stroke-width="0.08">1.0</text>
<line x1="137.00" y1="186.80" x2="184.50" y2="186.80" stroke="#555" stroke-width="0.9"/>
<ellipse cx="158.95" cy="189.50" rx="1.15" ry="1.0" fill="#000"/>
<ellipse cx="162.75" cy="189.50" rx="1.15" ry="1.0" fill="#000"/>
<line x1="120.20" y1="221.60" x2="133.50" y2="221.60" stroke="#555" stroke-width="0.9"/>
<ellipse cx="127.25" cy="223.80" rx="1.15" ry="1.0" fill="#000"/>
<line x1="138.10" y1="221.60" x2="199.40" y2="221.60" stroke="#555" stroke-width="0.9"/>
<ellipse cx="166.15" cy="223.80" rx="1.15" ry="1.0" fill="#000"/>
<ellipse cx="169.95" cy="223.80" rx="1.15" ry="1.0" fill="#000"/>
<line x1="135.30" y1="257.70" x2="185.30" y2="257.70" stroke="#555" stroke-width="0.9"/>
<ellipse cx="155.20" cy="259.90" rx="1.15" ry="1.0" fill="#000"/>
<ellipse cx="159.00" cy="259.90" rx="1.15" ry="1.0" fill="#000"/>
<line x1="120.20" y1="316.40" x2="133.50" y2="316.40" stroke="#555" stroke-width="0.9"/>
<ellipse cx="127.10" cy="318.90" rx="1.15" ry="1.0" fill="#000"/>
<line x1="135.60" y1="316.40" x2="185.30" y2="316.40" stroke="#555" stroke-width="0.9"/>
<ellipse cx="155.20" cy="318.90" rx="1.15" ry="1.0" fill="#000"/>
<ellipse cx="159.00" cy="318.90" rx="1.15" ry="1.0" fill="#000"/>
<text x="3.50" y="389.00" font-size="11" text-anchor="start" font-weight="bold" fill="#000" >D</text>
<g font-family='"Liberation Sans", sans-serif'>
<text x="141.70" y="392.80" font-size="10.8" text-anchor="middle" font-weight="normal" fill="#111" stroke="#111" stroke-width="0.3" textLength="118.5" lengthAdjust="spacingAndGlyphs">Rac1 G12V Transfected Cells</text>
<text x="388.00" y="392.80" font-size="10.8" text-anchor="middle" font-weight="normal" fill="#111" stroke="#111" stroke-width="0.3" textLength="117.5" lengthAdjust="spacingAndGlyphs">Rac1 T17N Transfected Cells</text>
<line x1="22.50" y1="396.90" x2="22.50" y2="538.80" stroke="#222" stroke-width="1.1"/>
<line x1="20.30" y1="538.30" x2="22.50" y2="538.30" stroke="#222" stroke-width="0.9"/>
<text transform="translate(19.2,540.60) scale(0.9,1)" font-size="6.7" text-anchor="end" fill="#222" stroke="#222" stroke-width="0.08">0.5</text>
<line x1="20.30" y1="520.65" x2="22.50" y2="520.65" stroke="#222" stroke-width="0.9"/>
<text transform="translate(19.2,522.95) scale(0.9,1)" font-size="6.7" text-anchor="end" fill="#222" stroke="#222" stroke-width="0.08">1.0</text>
<line x1="20.30" y1="503.00" x2="22.50" y2="503.00" stroke="#222" stroke-width="0.9"/>
<text transform="translate(19.2,505.30) scale(0.9,1)" font-size="6.7" text-anchor="end" fill="#222" stroke="#222" stroke-width="0.08">1.5</text>
<line x1="20.30" y1="485.35" x2="22.50" y2="485.35" stroke="#222" stroke-width="0.9"/>
<text transform="translate(19.2,487.65) scale(0.9,1)" font-size="6.7" text-anchor="end" fill="#222" stroke="#222" stroke-width="0.08">2.0</text>
<line x1="20.30" y1="467.70" x2="22.50" y2="467.70" stroke="#222" stroke-width="0.9"/>
<text transform="translate(19.2,470.00) scale(0.9,1)" font-size="6.7" text-anchor="end" fill="#222" stroke="#222" stroke-width="0.08">2.5</text>
<line x1="20.30" y1="450.05" x2="22.50" y2="450.05" stroke="#222" stroke-width="0.9"/>
<text transform="translate(19.2,452.35) scale(0.9,1)" font-size="6.7" text-anchor="end" fill="#222" stroke="#222" stroke-width="0.08">3.0</text>
<line x1="20.30" y1="432.40" x2="22.50" y2="432.40" stroke="#222" stroke-width="0.9"/>
<text transform="translate(19.2,434.70) scale(0.9,1)" font-size="6.7" text-anchor="end" fill="#222" stroke="#222" stroke-width="0.08">3.5</text>
<line x1="20.30" y1="414.75" x2="22.50" y2="414.75" stroke="#222" stroke-width="0.9"/>
<text transform="translate(19.2,417.05) scale(0.9,1)" font-size="6.7" text-anchor="end" fill="#222" stroke="#222" stroke-width="0.08">4.0</text>
<line x1="20.30" y1="397.10" x2="22.50" y2="397.10" stroke="#222" stroke-width="0.9"/>
<text transform="translate(19.2,399.40) scale(0.9,1)" font-size="6.7" text-anchor="end" fill="#222" stroke="#222" stroke-width="0.08">4.5</text>
<text x="0.00" y="0.00" font-size="8.5" text-anchor="middle" font-weight="normal" fill="#111" stroke="#111" stroke-width="0.2" transform="translate(7.1,466.6) rotate(-90)">Mean fold change in interactions</text>
<line x1="22.00" y1="538.50" x2="265.00" y2="538.50" stroke="#222" stroke-width="1.1"/>
<line x1="278.30" y1="538.50" x2="515.50" y2="538.50" stroke="#222" stroke-width="1.1"/>
<line x1="30.00" y1="538.50" x2="30.00" y2="540.80" stroke="#222" stroke-width="0.9"/>
<text x="30.00" y="546.70" font-size="6.4" text-anchor="middle" font-weight="normal" fill="#222" stroke="#222" stroke-width="0.08" >0</text>
<line x1="279.80" y1="538.50" x2="279.80" y2="540.80" stroke="#222" stroke-width="0.9"/>
<text x="279.80" y="546.70" font-size="6.4" text-anchor="middle" font-weight="normal" fill="#222" stroke="#222" stroke-width="0.08" >0</text>
<line x1="45.47" y1="538.50" x2="45.47" y2="540.80" stroke="#222" stroke-width="0.9"/>
<text x="45.47" y="546.70" font-size="6.4" text-anchor="middle" font-weight="normal" fill="#222" stroke="#222" stroke-width="0.08" >20</text>
<line x1="295.26" y1="538.50" x2="295.26" y2="540.80" stroke="#222" stroke-width="0.9"/>
<text x="295.26" y="546.70" font-size="6.4" text-anchor="middle" font-weight="normal" fill="#222" stroke="#222" stroke-width="0.08" >20</text>
<line x1="60.94" y1="538.50" x2="60.94" y2="540.80" stroke="#222" stroke-width="0.9"/>
<text x="60.94" y="546.70" font-size="6.4" text-anchor="middle" font-weight="normal" fill="#222" stroke="#222" stroke-width="0.08" >40</text>
<line x1="310.72" y1="538.50" x2="310.72" y2="540.80" stroke="#222" stroke-width="0.9"/>
<text x="310.72" y="546.70" font-size="6.4" text-anchor="middle" font-weight="normal" fill="#222" stroke="#222" stroke-width="0.08" >40</text>
<line x1="76.41" y1="538.50" x2="76.41" y2="540.80" stroke="#222" stroke-width="0.9"/>
<text x="76.41" y="546.70" font-size="6.4" text-anchor="middle" font-weight="normal" fill="#222" stroke="#222" stroke-width="0.08" >60</text>
<line x1="326.18" y1="538.50" x2="326.18" y2="540.80" stroke="#222" stroke-width="0.9"/>
<text x="326.18" y="546.70" font-size="6.4" text-anchor="middle" font-weight="normal" fill="#222" stroke="#222" stroke-width="0.08" >60</text>
<line x1="91.88" y1="538.50" x2="91.88" y2="540.80" stroke="#222" stroke-width="0.9"/>
<text x="91.88" y="546.70" font-size="6.4" text-anchor="middle" font-weight="normal" fill="#222" stroke="#222" stroke-width="0.08" >80</text>
<line x1="341.64" y1="538.50" x2="341.64" y2="540.80" stroke="#222" stroke-width="0.9"/>
<text x="341.64" y="546.70" font-size="6.4" text-anchor="middle" font-weight="normal" fill="#222" stroke="#222" stroke-width="0.08" >80</text>
<line x1="107.35" y1="538.50" x2="107.35" y2="540.80" stroke="#222" stroke-width="0.9"/>
<text x="107.35" y="546.70" font-size="6.4" text-anchor="middle" font-weight="normal" fill="#222" stroke="#222" stroke-width="0.08" >100</text>
<line x1="357.10" y1="538.50" x2="357.10" y2="540.80" stroke="#222" stroke-width="0.9"/>
<text x="357.10" y="546.70" font-size="6.4" text-anchor="middle" font-weight="normal" fill="#222" stroke="#222" stroke-width="0.08" >100</text>
<line x1="122.82" y1="538.50" x2="122.82" y2="540.80" stroke="#222" stroke-width="0.9"/>
<text x="122.82" y="546.70" font-size="6.4" text-anchor="middle" font-weight="normal" fill="#222" stroke="#222" stroke-width="0.08" >120</text>
<line x1="372.56" y1="538.50" x2="372.56" y2="540.80" stroke="#222" stroke-width="0.9"/>
<text x="372.56" y="546.70" font-size="6.4" text-anchor="middle" font-weight="normal" fill="#222" stroke="#222" stroke-width="0.08" >120</text>
<line x1="138.29" y1="538.50" x2="138.29" y2="540.80" stroke="#222" stroke-width="0.9"/>
<text x="138.29" y="546.70" font-size="6.4" text-anchor="middle" font-weight="normal" fill="#222" stroke="#222" stroke-width="0.08" >140</text>
<line x1="388.02" y1="538.50" x2="388.02" y2="540.80" stroke="#222" stroke-width="0.9"/>
<text x="388.02" y="546.70" font-size="6.4" text-anchor="middle" font-weight="normal" fill="#222" stroke="#222" stroke-width="0.08" >140</text>
<line x1="153.76" y1="538.50" x2="153.76" y2="540.80" stroke="#222" stroke-width="0.9"/>
<text x="153.76" y="546.70" font-size="6.4" text-anchor="middle" font-weight="normal" fill="#222" stroke="#222" stroke-width="0.08" >160</text>
<line x1="403.48" y1="538.50" x2="403.48" y2="540.80" stroke="#222" stroke-width="0.9"/>
<text x="403.48" y="546.70" font-size="6.4" text-anchor="middle" font-weight="normal" fill="#222" stroke="#222" stroke-width="0.08" >160</text>
<line x1="169.23" y1="538.50" x2="169.23" y2="540.80" stroke="#222" stroke-width="0.9"/>
<text x="169.23" y="546.70" font-size="6.4" text-anchor="middle" font-weight="normal" fill="#222" stroke="#222" stroke-width="0.08" >180</text>
<line x1="418.94" y1="538.50" x2="418.94" y2="540.80" stroke="#222" stroke-width="0.9"/>
<text x="418.94" y="546.70" font-size="6.4" text-anchor="middle" font-weight="normal" fill="#222" stroke="#222" stroke-width="0.08" >180</text>
<line x1="184.70" y1="538.50" x2="184.70" y2="540.80" stroke="#222" stroke-width="0.9"/>
<text x="184.70" y="546.70" font-size="6.4" text-anchor="middle" font-weight="normal" fill="#222" stroke="#222" stroke-width="0.08" >210</text>
<line x1="434.40" y1="538.50" x2="434.40" y2="540.80" stroke="#222" stroke-width="0.9"/>
<text x="434.40" y="546.70" font-size="6.4" text-anchor="middle" font-weight="normal" fill="#222" stroke="#222" stroke-width="0.08" >210</text>
<line x1="200.17" y1="538.50" x2="200.17" y2="540.80" stroke="#222" stroke-width="0.9"/>
<text x="200.17" y="546.70" font-size="6.4" text-anchor="middle" font-weight="normal" fill="#222" stroke="#222" stroke-width="0.08" >240</text>
<line x1="449.86" y1="538.50" x2="449.86" y2="540.80" stroke="#222" stroke-width="0.9"/>
<text x="449.86" y="546.70" font-size="6.4" text-anchor="middle" font-weight="normal" fill="#222" stroke="#222" stroke-width="0.08" >240</text>
<line x1="215.64" y1="538.50" x2="215.64" y2="540.80" stroke="#222" stroke-width="0.9"/>
<text x="215.64" y="546.70" font-size="6.4" text-anchor="middle" font-weight="normal" fill="#222" stroke="#222" stroke-width="0.08" >270</text>
<line x1="465.32" y1="538.50" x2="465.32" y2="540.80" stroke="#222" stroke-width="0.9"/>
<text x="465.32" y="546.70" font-size="6.4" text-anchor="middle" font-weight="normal" fill="#222" stroke="#222" stroke-width="0.08" >270</text>
<line x1="231.11" y1="538.50" x2="231.11" y2="540.80" stroke="#222" stroke-width="0.9"/>
<text x="231.11" y="546.70" font-size="6.4" text-anchor="middle" font-weight="normal" fill="#222" stroke="#222" stroke-width="0.08" >300</text>
<line x1="480.78" y1="538.50" x2="480.78" y2="540.80" stroke="#222" stroke-width="0.9"/>
<text x="480.78" y="546.70" font-size="6.4" text-anchor="middle" font-weight="normal" fill="#222" stroke="#222" stroke-width="0.08" >300</text>
<line x1="246.58" y1="538.50" x2="246.58" y2="540.80" stroke="#222" stroke-width="0.9"/>
<text x="246.58" y="546.70" font-size="6.4" text-anchor="middle" font-weight="normal" fill="#222" stroke="#222" stroke-width="0.08" >330</text>
<line x1="496.24" y1="538.50" x2="496.24" y2="540.80" stroke="#222" stroke-width="0.9"/>
<text x="496.24" y="546.70" font-size="6.4" text-anchor="middle" font-weight="normal" fill="#222" stroke="#222" stroke-width="0.08" >330</text>
<line x1="262.05" y1="538.50" x2="262.05" y2="540.80" stroke="#222" stroke-width="0.9"/>
<text x="262.05" y="546.70" font-size="6.4" text-anchor="middle" font-weight="normal" fill="#222" stroke="#222" stroke-width="0.08" >360</text>
<line x1="511.70" y1="538.50" x2="511.70" y2="540.80" stroke="#222" stroke-width="0.9"/>
<text x="511.70" y="546.70" font-size="6.4" text-anchor="middle" font-weight="normal" fill="#222" stroke="#222" stroke-width="0.08" >360</text>
<text x="276.50" y="557.50" font-size="9.4" text-anchor="middle" font-weight="normal" fill="#111" stroke="#111" stroke-width="0.2" >Time post-cANGPTL4 treatment (min)</text>
<line x1="30.00" y1="518.35" x2="30.00" y2="516.00" stroke="#444" stroke-width="0.75"/>
<line x1="28.40" y1="516.00" x2="31.60" y2="516.00" stroke="#444" stroke-width="0.75"/>
<line x1="45.47" y1="493.92" x2="45.47" y2="485.50" stroke="#444" stroke-width="0.75"/>
<line x1="43.87" y1="485.50" x2="47.07" y2="485.50" stroke="#444" stroke-width="0.75"/>
<line x1="60.94" y1="450.64" x2="60.94" y2="448.00" stroke="#444" stroke-width="0.75"/>
<line x1="59.34" y1="448.00" x2="62.54" y2="448.00" stroke="#444" stroke-width="0.75"/>
<line x1="76.41" y1="457.97" x2="76.41" y2="455.00" stroke="#444" stroke-width="0.75"/>
<line x1="74.81" y1="455.00" x2="78.01" y2="455.00" stroke="#444" stroke-width="0.75"/>
<line x1="91.88" y1="487.99" x2="91.88" y2="484.00" stroke="#444" stroke-width="0.75"/>
<line x1="90.28" y1="484.00" x2="93.48" y2="484.00" stroke="#444" stroke-width="0.75"/>
<line x1="107.35" y1="494.62" x2="107.35" y2="481.30" stroke="#444" stroke-width="0.75"/>
<line x1="105.75" y1="481.30" x2="108.95" y2="481.30" stroke="#444" stroke-width="0.75"/>
<line x1="122.82" y1="494.97" x2="122.82" y2="490.00" stroke="#444" stroke-width="0.75"/>
<line x1="121.22" y1="490.00" x2="124.42" y2="490.00" stroke="#444" stroke-width="0.75"/>
<line x1="138.29" y1="498.81" x2="138.29" y2="489.80" stroke="#444" stroke-width="0.75"/>
<line x1="136.69" y1="489.80" x2="139.89" y2="489.80" stroke="#444" stroke-width="0.75"/>
<line x1="153.76" y1="501.25" x2="153.76" y2="500.00" stroke="#444" stroke-width="0.75"/>
<line x1="152.16" y1="500.00" x2="155.36" y2="500.00" stroke="#444" stroke-width="0.75"/>
<line x1="169.23" y1="501.25" x2="169.23" y2="491.60" stroke="#444" stroke-width="0.75"/>
<line x1="167.63" y1="491.60" x2="170.83" y2="491.60" stroke="#444" stroke-width="0.75"/>
<line x1="184.70" y1="507.18" x2="184.70" y2="500.00" stroke="#444" stroke-width="0.75"/>
<line x1="183.10" y1="500.00" x2="186.30" y2="500.00" stroke="#444" stroke-width="0.75"/>
<line x1="200.17" y1="515.56" x2="200.17" y2="510.00" stroke="#444" stroke-width="0.75"/>
<line x1="198.57" y1="510.00" x2="201.77" y2="510.00" stroke="#444" stroke-width="0.75"/>
<line x1="215.64" y1="516.26" x2="215.64" y2="512.00" stroke="#444" stroke-width="0.75"/>
<line x1="214.04" y1="512.00" x2="217.24" y2="512.00" stroke="#444" stroke-width="0.75"/>
<line x1="231.11" y1="517.65" x2="231.11" y2="514.00" stroke="#444" stroke-width="0.75"/>
<line x1="229.51" y1="514.00" x2="232.71" y2="514.00" stroke="#444" stroke-width="0.75"/>
<line x1="246.58" y1="519.40" x2="246.58" y2="515.00" stroke="#444" stroke-width="0.75"/>
<line x1="244.98" y1="515.00" x2="248.18" y2="515.00" stroke="#444" stroke-width="0.75"/>
<line x1="262.05" y1="517.65" x2="262.05" y2="515.00" stroke="#444" stroke-width="0.75"/>
<line x1="260.45" y1="515.00" x2="263.65" y2="515.00" stroke="#444" stroke-width="0.75"/>
<line x1="30.00" y1="518.35" x2="30.00" y2="516.00" stroke="#444" stroke-width="0.75"/>
<line x1="28.40" y1="516.00" x2="31.60" y2="516.00" stroke="#444" stroke-width="0.75"/>
<line x1="45.47" y1="518.00" x2="45.47" y2="516.00" stroke="#444" stroke-width="0.75"/>
<line x1="43.87" y1="516.00" x2="47.07" y2="516.00" stroke="#444" stroke-width="0.75"/>
<line x1="60.94" y1="511.37" x2="60.94" y2="503.00" stroke="#444" stroke-width="0.75"/>
<line x1="59.34" y1="503.00" x2="62.54" y2="503.00" stroke="#444" stroke-width="0.75"/>
<line x1="76.41" y1="487.99" x2="76.41" y2="483.80" stroke="#444" stroke-width="0.75"/>
<line x1="74.81" y1="483.80" x2="78.01" y2="483.80" stroke="#444" stroke-width="0.75"/>
<line x1="91.88" y1="482.40" x2="91.88" y2="472.00" stroke="#444" stroke-width="0.75"/>
<line x1="90.28" y1="472.00" x2="93.48" y2="472.00" stroke="#444" stroke-width="0.75"/>
<line x1="107.35" y1="432.50" x2="107.35" y2="430.00" stroke="#444" stroke-width="0.75"/>
<line x1="105.75" y1="430.00" x2="108.95" y2="430.00" stroke="#444" stroke-width="0.75"/>
<line x1="122.82" y1="438.78" x2="122.82" y2="431.00" stroke="#444" stroke-width="0.75"/>
<line x1="121.22" y1="431.00" x2="124.42" y2="431.00" stroke="#444" stroke-width="0.75"/>
<line x1="138.29" y1="467.05" x2="138.29" y2="462.00" stroke="#444" stroke-width="0.75"/>
<line x1="136.69" y1="462.00" x2="139.89" y2="462.00" stroke="#444" stroke-width="0.75"/>
<line x1="153.76" y1="468.44" x2="153.76" y2="464.80" stroke="#444" stroke-width="0.75"/>
<line x1="152.16" y1="464.80" x2="155.36" y2="464.80" stroke="#444" stroke-width="0.75"/>
<line x1="169.23" y1="476.82" x2="169.23" y2="468.20" stroke="#444" stroke-width="0.75"/>
<line x1="167.63" y1="468.20" x2="170.83" y2="468.20" stroke="#444" stroke-width="0.75"/>
<line x1="184.70" y1="482.75" x2="184.70" y2="478.60" stroke="#444" stroke-width="0.75"/>
<line x1="183.10" y1="478.60" x2="186.30" y2="478.60" stroke="#444" stroke-width="0.75"/>
<line x1="200.17" y1="506.48" x2="200.17" y2="500.00" stroke="#444" stroke-width="0.75"/>
<line x1="198.57" y1="500.00" x2="201.77" y2="500.00" stroke="#444" stroke-width="0.75"/>
<line x1="215.64" y1="516.26" x2="215.64" y2="507.00" stroke="#444" stroke-width="0.75"/>
<line x1="214.04" y1="507.00" x2="217.24" y2="507.00" stroke="#444" stroke-width="0.75"/>
<line x1="231.11" y1="519.05" x2="231.11" y2="512.00" stroke="#444" stroke-width="0.75"/>
<line x1="229.51" y1="512.00" x2="232.71" y2="512.00" stroke="#444" stroke-width="0.75"/>
<line x1="246.58" y1="521.49" x2="246.58" y2="512.00" stroke="#444" stroke-width="0.75"/>
<line x1="244.98" y1="512.00" x2="248.18" y2="512.00" stroke="#444" stroke-width="0.75"/>
<line x1="262.05" y1="517.65" x2="262.05" y2="507.00" stroke="#444" stroke-width="0.75"/>
<line x1="260.45" y1="507.00" x2="263.65" y2="507.00" stroke="#444" stroke-width="0.75"/>
<line x1="30.00" y1="518.35" x2="30.00" y2="516.00" stroke="#444" stroke-width="0.75"/>
<line x1="28.40" y1="516.00" x2="31.60" y2="516.00" stroke="#444" stroke-width="0.75"/>
<line x1="45.47" y1="513.81" x2="45.47" y2="505.00" stroke="#444" stroke-width="0.75"/>
<line x1="43.87" y1="505.00" x2="47.07" y2="505.00" stroke="#444" stroke-width="0.75"/>
<line x1="60.94" y1="466.35" x2="60.94" y2="463.80" stroke="#444" stroke-width="0.75"/>
<line x1="59.34" y1="463.80" x2="62.54" y2="463.80" stroke="#444" stroke-width="0.75"/>
<line x1="76.41" y1="453.09" x2="76.41" y2="445.00" stroke="#444" stroke-width="0.75"/>
<line x1="74.81" y1="445.00" x2="78.01" y2="445.00" stroke="#444" stroke-width="0.75"/>
<line x1="91.88" y1="412.95" x2="91.88" y2="405.50" stroke="#444" stroke-width="0.75"/>
<line x1="90.28" y1="405.50" x2="93.48" y2="405.50" stroke="#444" stroke-width="0.75"/>
<line x1="107.35" y1="442.62" x2="107.35" y2="440.00" stroke="#444" stroke-width="0.75"/>
<line x1="105.75" y1="440.00" x2="108.95" y2="440.00" stroke="#444" stroke-width="0.75"/>
<line x1="122.82" y1="453.09" x2="122.82" y2="448.00" stroke="#444" stroke-width="0.75"/>
<line x1="121.22" y1="448.00" x2="124.42" y2="448.00" stroke="#444" stroke-width="0.75"/>
<line x1="138.29" y1="456.93" x2="138.29" y2="455.00" stroke="#444" stroke-width="0.75"/>
<line x1="136.69" y1="455.00" x2="139.89" y2="455.00" stroke="#444" stroke-width="0.75"/>
<line x1="153.76" y1="479.61" x2="153.76" y2="477.00" stroke="#444" stroke-width="0.75"/>
<line x1="152.16" y1="477.00" x2="155.36" y2="477.00" stroke="#444" stroke-width="0.75"/>
<line x1="169.23" y1="483.10" x2="169.23" y2="478.00" stroke="#444" stroke-width="0.75"/>
<line x1="167.63" y1="478.00" x2="170.83" y2="478.00" stroke="#444" stroke-width="0.75"/>
<line x1="184.70" y1="491.83" x2="184.70" y2="486.00" stroke="#444" stroke-width="0.75"/>
<line x1="183.10" y1="486.00" x2="186.30" y2="486.00" stroke="#444" stroke-width="0.75"/>
<line x1="200.17" y1="499.50" x2="200.17" y2="497.60" stroke="#444" stroke-width="0.75"/>
<line x1="198.57" y1="497.60" x2="201.77" y2="497.60" stroke="#444" stroke-width="0.75"/>
<line x1="215.64" y1="517.65" x2="215.64" y2="510.00" stroke="#444" stroke-width="0.75"/>
<line x1="214.04" y1="510.00" x2="217.24" y2="510.00" stroke="#444" stroke-width="0.75"/>
<line x1="231.11" y1="514.86" x2="231.11" y2="508.00" stroke="#444" stroke-width="0.75"/>
<line x1="229.51" y1="508.00" x2="232.71" y2="508.00" stroke="#444" stroke-width="0.75"/>
<line x1="246.58" y1="511.02" x2="246.58" y2="507.00" stroke="#444" stroke-width="0.75"/>
<line x1="244.98" y1="507.00" x2="248.18" y2="507.00" stroke="#444" stroke-width="0.75"/>
<line x1="262.05" y1="521.14" x2="262.05" y2="515.00" stroke="#444" stroke-width="0.75"/>
<line x1="260.45" y1="515.00" x2="263.65" y2="515.00" stroke="#444" stroke-width="0.75"/>
<polyline points="30.00,520.85 45.47,496.42 60.94,453.14 76.41,460.47 91.88,490.49 107.35,497.12 122.82,497.47 138.29,501.31 153.76,503.75 169.23,503.75 184.70,509.68 200.17,518.06 215.64,518.76 231.11,520.15 246.58,521.90 262.05,520.15" fill="none" stroke="#111" stroke-width="1.3"/>
<polyline points="30.00,520.85 45.47,520.50 60.94,513.87 76.41,490.49 91.88,484.90 107.35,435.00 122.82,441.28 138.29,469.55 153.76,470.94 169.23,479.32 184.70,485.25 200.17,508.98 215.64,518.76 231.11,521.55 246.58,523.99 262.05,520.15" fill="none" stroke="#111" stroke-width="1.3"/>
<polyline points="30.00,520.85 45.47,516.31 60.94,468.85 76.41,455.59 91.88,415.45 107.35,445.12 122.82,455.59 138.29,459.43 153.76,482.11 169.23,485.60 184.70,494.33 200.17,502.00 215.64,520.15 231.11,517.36 246.58,513.52 262.05,523.64" fill="none" stroke="#111" stroke-width="1.3"/>
<circle cx="30.00" cy="520.85" r="2.5" fill="#111"/>
<circle cx="45.47" cy="516.31" r="2.5" fill="#111"/>
<circle cx="60.94" cy="468.85" r="2.5" fill="#111"/>
<circle cx="76.41" cy="455.59" r="2.5" fill="#111"/>
<circle cx="91.88" cy="415.45" r="2.5" fill="#111"/>
<circle cx="107.35" cy="445.12" r="2.5" fill="#111"/>
<circle cx="122.82" cy="455.59" r="2.5" fill="#111"/>
<circle cx="138.29" cy="459.43" r="2.5" fill="#111"/>
<circle cx="153.76" cy="482.11" r="2.5" fill="#111"/>
<circle cx="169.23" cy="485.60" r="2.5" fill="#111"/>
<circle cx="184.70" cy="494.33" r="2.5" fill="#111"/>
<circle cx="200.17" cy="502.00" r="2.5" fill="#111"/>
<circle cx="215.64" cy="520.15" r="2.5" fill="#111"/>
<circle cx="231.11" cy="517.36" r="2.5" fill="#111"/>
<circle cx="246.58" cy="513.52" r="2.5" fill="#111"/>
<circle cx="262.05" cy="523.64" r="2.5" fill="#111"/>
<circle cx="30.00" cy="520.85" r="2.1" fill="#fff" stroke="#111" stroke-width="1.05"/>
<circle cx="45.47" cy="520.50" r="2.1" fill="#fff" stroke="#111" stroke-width="1.05"/>
<circle cx="60.94" cy="513.87" r="2.1" fill="#fff" stroke="#111" stroke-width="1.05"/>
<circle cx="76.41" cy="490.49" r="2.1" fill="#fff" stroke="#111" stroke-width="1.05"/>
<circle cx="91.88" cy="484.90" r="2.1" fill="#fff" stroke="#111" stroke-width="1.05"/>
<circle cx="107.35" cy="435.00" r="2.1" fill="#fff" stroke="#111" stroke-width="1.05"/>
<circle cx="122.82" cy="441.28" r="2.1" fill="#fff" stroke="#111" stroke-width="1.05"/>
<circle cx="138.29" cy="469.55" r="2.1" fill="#fff" stroke="#111" stroke-width="1.05"/>
<circle cx="153.76" cy="470.94" r="2.1" fill="#fff" stroke="#111" stroke-width="1.05"/>
<circle cx="169.23" cy="479.32" r="2.1" fill="#fff" stroke="#111" stroke-width="1.05"/>
<circle cx="184.70" cy="485.25" r="2.1" fill="#fff" stroke="#111" stroke-width="1.05"/>
<circle cx="200.17" cy="508.98" r="2.1" fill="#fff" stroke="#111" stroke-width="1.05"/>
<circle cx="215.64" cy="518.76" r="2.1" fill="#fff" stroke="#111" stroke-width="1.05"/>
<circle cx="231.11" cy="521.55" r="2.1" fill="#fff" stroke="#111" stroke-width="1.05"/>
<circle cx="246.58" cy="523.99" r="2.1" fill="#fff" stroke="#111" stroke-width="1.05"/>
<circle cx="262.05" cy="520.15" r="2.1" fill="#fff" stroke="#111" stroke-width="1.05"/>
<polygon points="30.00,518.25 27.60,522.65 32.40,522.65" fill="#fff" stroke="#111" stroke-width="1.05" stroke-linejoin="round"/>
<polygon points="45.47,493.82 43.07,498.22 47.87,498.22" fill="#fff" stroke="#111" stroke-width="1.05" stroke-linejoin="round"/>
<polygon points="60.94,450.54 58.54,454.94 63.34,454.94" fill="#fff" stroke="#111" stroke-width="1.05" stroke-linejoin="round"/>
<polygon points="76.41,457.87 74.01,462.27 78.81,462.27" fill="#fff" stroke="#111" stroke-width="1.05" stroke-linejoin="round"/>
<polygon points="91.88,487.89 89.48,492.29 94.28,492.29" fill="#fff" stroke="#111" stroke-width="1.05" stroke-linejoin="round"/>
<polygon points="107.35,494.52 104.95,498.92 109.75,498.92" fill="#fff" stroke="#111" stroke-width="1.05" stroke-linejoin="round"/>
<polygon points="122.82,494.87 120.42,499.27 125.22,499.27" fill="#fff" stroke="#111" stroke-width="1.05" stroke-linejoin="round"/>
<polygon points="138.29,498.71 135.89,503.11 140.69,503.11" fill="#fff" stroke="#111" stroke-width="1.05" stroke-linejoin="round"/>
<polygon points="153.76,501.15 151.36,505.55 156.16,505.55" fill="#fff" stroke="#111" stroke-width="1.05" stroke-linejoin="round"/>
<polygon points="169.23,501.15 166.83,505.55 171.63,505.55" fill="#fff" stroke="#111" stroke-width="1.05" stroke-linejoin="round"/>
<polygon points="184.70,507.08 182.30,511.48 187.10,511.48" fill="#fff" stroke="#111" stroke-width="1.05" stroke-linejoin="round"/>
<polygon points="200.17,515.46 197.77,519.86 202.57,519.86" fill="#fff" stroke="#111" stroke-width="1.05" stroke-linejoin="round"/>
<polygon points="215.64,516.16 213.24,520.56 218.04,520.56" fill="#fff" stroke="#111" stroke-width="1.05" stroke-linejoin="round"/>
<polygon points="231.11,517.55 228.71,521.95 233.51,521.95" fill="#fff" stroke="#111" stroke-width="1.05" stroke-linejoin="round"/>
<polygon points="246.58,519.30 244.18,523.70 248.98,523.70" fill="#fff" stroke="#111" stroke-width="1.05" stroke-linejoin="round"/>
<polygon points="262.05,517.55 259.65,521.95 264.45,521.95" fill="#fff" stroke="#111" stroke-width="1.05" stroke-linejoin="round"/>
<line x1="279.80" y1="518.00" x2="279.80" y2="511.00" stroke="#444" stroke-width="0.75"/>
<line x1="278.20" y1="511.00" x2="281.40" y2="511.00" stroke="#444" stroke-width="0.75"/>
<line x1="295.26" y1="490.08" x2="295.26" y2="470.00" stroke="#444" stroke-width="0.75"/>
<line x1="293.66" y1="470.00" x2="296.86" y2="470.00" stroke="#444" stroke-width="0.75"/>
<line x1="310.72" y1="432.50" x2="310.72" y2="420.00" stroke="#444" stroke-width="0.75"/>
<line x1="309.12" y1="420.00" x2="312.32" y2="420.00" stroke="#444" stroke-width="0.75"/>
<line x1="326.18" y1="483.80" x2="326.18" y2="471.00" stroke="#444" stroke-width="0.75"/>
<line x1="324.58" y1="471.00" x2="327.78" y2="471.00" stroke="#444" stroke-width="0.75"/>
<line x1="341.64" y1="485.54" x2="341.64" y2="470.00" stroke="#444" stroke-width="0.75"/>
<line x1="340.04" y1="470.00" x2="343.24" y2="470.00" stroke="#444" stroke-width="0.75"/>
<line x1="357.10" y1="493.92" x2="357.10" y2="483.50" stroke="#444" stroke-width="0.75"/>
<line x1="355.50" y1="483.50" x2="358.70" y2="483.50" stroke="#444" stroke-width="0.75"/>
<line x1="372.56" y1="486.94" x2="372.56" y2="477.40" stroke="#444" stroke-width="0.75"/>
<line x1="370.96" y1="477.40" x2="374.16" y2="477.40" stroke="#444" stroke-width="0.75"/>
<line x1="388.02" y1="490.43" x2="388.02" y2="484.50" stroke="#444" stroke-width="0.75"/>
<line x1="386.42" y1="484.50" x2="389.62" y2="484.50" stroke="#444" stroke-width="0.75"/>
<line x1="403.48" y1="506.83" x2="403.48" y2="497.00" stroke="#444" stroke-width="0.75"/>
<line x1="401.88" y1="497.00" x2="405.08" y2="497.00" stroke="#444" stroke-width="0.75"/>
<line x1="418.94" y1="512.42" x2="418.94" y2="505.00" stroke="#444" stroke-width="0.75"/>
<line x1="417.34" y1="505.00" x2="420.54" y2="505.00" stroke="#444" stroke-width="0.75"/>
<line x1="434.40" y1="513.81" x2="434.40" y2="505.00" stroke="#444" stroke-width="0.75"/>
<line x1="432.80" y1="505.00" x2="436.00" y2="505.00" stroke="#444" stroke-width="0.75"/>
<line x1="449.86" y1="509.62" x2="449.86" y2="497.50" stroke="#444" stroke-width="0.75"/>
<line x1="448.26" y1="497.50" x2="451.46" y2="497.50" stroke="#444" stroke-width="0.75"/>
<line x1="465.32" y1="512.07" x2="465.32" y2="506.00" stroke="#444" stroke-width="0.75"/>
<line x1="463.72" y1="506.00" x2="466.92" y2="506.00" stroke="#444" stroke-width="0.75"/>
<line x1="480.78" y1="512.07" x2="480.78" y2="502.50" stroke="#444" stroke-width="0.75"/>
<line x1="479.18" y1="502.50" x2="482.38" y2="502.50" stroke="#444" stroke-width="0.75"/>
<line x1="496.24" y1="513.81" x2="496.24" y2="503.80" stroke="#444" stroke-width="0.75"/>
<line x1="494.64" y1="503.80" x2="497.84" y2="503.80" stroke="#444" stroke-width="0.75"/>
<line x1="511.70" y1="517.65" x2="511.70" y2="515.00" stroke="#444" stroke-width="0.75"/>
<line x1="510.10" y1="515.00" x2="513.30" y2="515.00" stroke="#444" stroke-width="0.75"/>
<line x1="279.80" y1="518.35" x2="279.80" y2="511.00" stroke="#444" stroke-width="0.75"/>
<line x1="278.20" y1="511.00" x2="281.40" y2="511.00" stroke="#444" stroke-width="0.75"/>
<line x1="295.26" y1="518.00" x2="295.26" y2="511.00" stroke="#444" stroke-width="0.75"/>
<line x1="293.66" y1="511.00" x2="296.86" y2="511.00" stroke="#444" stroke-width="0.75"/>
<line x1="310.72" y1="520.09" x2="310.72" y2="512.00" stroke="#444" stroke-width="0.75"/>
<line x1="309.12" y1="512.00" x2="312.32" y2="512.00" stroke="#444" stroke-width="0.75"/>
<line x1="326.18" y1="520.09" x2="326.18" y2="512.00" stroke="#444" stroke-width="0.75"/>
<line x1="324.58" y1="512.00" x2="327.78" y2="512.00" stroke="#444" stroke-width="0.75"/>
<line x1="341.64" y1="518.00" x2="341.64" y2="511.00" stroke="#444" stroke-width="0.75"/>
<line x1="340.04" y1="511.00" x2="343.24" y2="511.00" stroke="#444" stroke-width="0.75"/>
<line x1="357.10" y1="510.67" x2="357.10" y2="506.00" stroke="#444" stroke-width="0.75"/>
<line x1="355.50" y1="506.00" x2="358.70" y2="506.00" stroke="#444" stroke-width="0.75"/>
<line x1="372.56" y1="510.67" x2="372.56" y2="506.00" stroke="#444" stroke-width="0.75"/>
<line x1="370.96" y1="506.00" x2="374.16" y2="506.00" stroke="#444" stroke-width="0.75"/>
<line x1="388.02" y1="503.69" x2="388.02" y2="497.00" stroke="#444" stroke-width="0.75"/>
<line x1="386.42" y1="497.00" x2="389.62" y2="497.00" stroke="#444" stroke-width="0.75"/>
<line x1="403.48" y1="507.53" x2="403.48" y2="503.00" stroke="#444" stroke-width="0.75"/>
<line x1="401.88" y1="503.00" x2="405.08" y2="503.00" stroke="#444" stroke-width="0.75"/>
<line x1="418.94" y1="516.95" x2="418.94" y2="507.30" stroke="#444" stroke-width="0.75"/>
<line x1="417.34" y1="507.30" x2="420.54" y2="507.30" stroke="#444" stroke-width="0.75"/>
<line x1="434.40" y1="517.65" x2="434.40" y2="510.00" stroke="#444" stroke-width="0.75"/>
<line x1="432.80" y1="510.00" x2="436.00" y2="510.00" stroke="#444" stroke-width="0.75"/>
<line x1="449.86" y1="510.67" x2="449.86" y2="505.00" stroke="#444" stroke-width="0.75"/>
<line x1="448.26" y1="505.00" x2="451.46" y2="505.00" stroke="#444" stroke-width="0.75"/>
<line x1="465.32" y1="499.50" x2="465.32" y2="493.80" stroke="#444" stroke-width="0.75"/>
<line x1="463.72" y1="493.80" x2="466.92" y2="493.80" stroke="#444" stroke-width="0.75"/>
<line x1="480.78" y1="463.91" x2="480.78" y2="454.50" stroke="#444" stroke-width="0.75"/>
<line x1="479.18" y1="454.50" x2="482.38" y2="454.50" stroke="#444" stroke-width="0.75"/>
<line x1="496.24" y1="442.97" x2="496.24" y2="440.00" stroke="#444" stroke-width="0.75"/>
<line x1="494.64" y1="440.00" x2="497.84" y2="440.00" stroke="#444" stroke-width="0.75"/>
<line x1="511.70" y1="447.15" x2="511.70" y2="440.00" stroke="#444" stroke-width="0.75"/>
<line x1="510.10" y1="440.00" x2="513.30" y2="440.00" stroke="#444" stroke-width="0.75"/>
<line x1="279.80" y1="518.35" x2="279.80" y2="511.00" stroke="#444" stroke-width="0.75"/>
<line x1="278.20" y1="511.00" x2="281.40" y2="511.00" stroke="#444" stroke-width="0.75"/>
<line x1="295.26" y1="514.86" x2="295.26" y2="511.00" stroke="#444" stroke-width="0.75"/>
<line x1="293.66" y1="511.00" x2="296.86" y2="511.00" stroke="#444" stroke-width="0.75"/>
<line x1="310.72" y1="520.09" x2="310.72" y2="508.80" stroke="#444" stroke-width="0.75"/>
<line x1="309.12" y1="508.80" x2="312.32" y2="508.80" stroke="#444" stroke-width="0.75"/>
<line x1="326.18" y1="520.09" x2="326.18" y2="510.00" stroke="#444" stroke-width="0.75"/>
<line x1="324.58" y1="510.00" x2="327.78" y2="510.00" stroke="#444" stroke-width="0.75"/>
<line x1="341.64" y1="515.56" x2="341.64" y2="505.00" stroke="#444" stroke-width="0.75"/>
<line x1="340.04" y1="505.00" x2="343.24" y2="505.00" stroke="#444" stroke-width="0.75"/>
<line x1="357.10" y1="503.69" x2="357.10" y2="500.00" stroke="#444" stroke-width="0.75"/>
<line x1="355.50" y1="500.00" x2="358.70" y2="500.00" stroke="#444" stroke-width="0.75"/>
<line x1="372.56" y1="493.22" x2="372.56" y2="490.00" stroke="#444" stroke-width="0.75"/>
<line x1="370.96" y1="490.00" x2="374.16" y2="490.00" stroke="#444" stroke-width="0.75"/>
<line x1="388.02" y1="494.62" x2="388.02" y2="492.00" stroke="#444" stroke-width="0.75"/>
<line x1="386.42" y1="492.00" x2="389.62" y2="492.00" stroke="#444" stroke-width="0.75"/>
<line x1="403.48" y1="503.69" x2="403.48" y2="501.00" stroke="#444" stroke-width="0.75"/>
<line x1="401.88" y1="501.00" x2="405.08" y2="501.00" stroke="#444" stroke-width="0.75"/>
<line x1="418.94" y1="499.50" x2="418.94" y2="498.00" stroke="#444" stroke-width="0.75"/>
<line x1="417.34" y1="498.00" x2="420.54" y2="498.00" stroke="#444" stroke-width="0.75"/>
<line x1="434.40" y1="478.91" x2="434.40" y2="468.50" stroke="#444" stroke-width="0.75"/>
<line x1="432.80" y1="468.50" x2="436.00" y2="468.50" stroke="#444" stroke-width="0.75"/>
<line x1="449.86" y1="463.91" x2="449.86" y2="455.50" stroke="#444" stroke-width="0.75"/>
<line x1="448.26" y1="455.50" x2="451.46" y2="455.50" stroke="#444" stroke-width="0.75"/>
<line x1="465.32" y1="432.50" x2="465.32" y2="429.50" stroke="#444" stroke-width="0.75"/>
<line x1="463.72" y1="429.50" x2="466.92" y2="429.50" stroke="#444" stroke-width="0.75"/>
<line x1="480.78" y1="415.39" x2="480.78" y2="407.50" stroke="#444" stroke-width="0.75"/>
<line x1="479.18" y1="407.50" x2="482.38" y2="407.50" stroke="#444" stroke-width="0.75"/>
<line x1="496.24" y1="446.11" x2="496.24" y2="434.50" stroke="#444" stroke-width="0.75"/>
<line x1="494.64" y1="434.50" x2="497.84" y2="434.50" stroke="#444" stroke-width="0.75"/>
<line x1="511.70" y1="456.93" x2="511.70" y2="452.00" stroke="#444" stroke-width="0.75"/>
<line x1="510.10" y1="452.00" x2="513.30" y2="452.00" stroke="#444" stroke-width="0.75"/>
<polyline points="279.80,520.50 295.26,492.58 310.72,435.00 326.18,486.30 341.64,488.04 357.10,496.42 372.56,489.44 388.02,492.93 403.48,509.33 418.94,514.92 434.40,516.31 449.86,512.12 465.32,514.57 480.78,514.57 496.24,516.31 511.70,520.15" fill="none" stroke="#111" stroke-width="1.3"/>
<polyline points="279.80,520.85 295.26,520.50 310.72,522.59 326.18,522.59 341.64,520.50 357.10,513.17 372.56,513.17 388.02,506.19 403.48,510.03 418.94,519.45 434.40,520.15 449.86,513.17 465.32,502.00 480.78,466.41 496.24,445.47 511.70,449.65" fill="none" stroke="#111" stroke-width="1.3"/>
<polyline points="279.80,520.85 295.26,517.36 310.72,522.59 326.18,522.59 341.64,518.06 357.10,506.19 372.56,495.72 388.02,497.12 403.48,506.19 418.94,502.00 434.40,481.41 449.86,466.41 465.32,435.00 480.78,417.89 496.24,448.61 511.70,459.43" fill="none" stroke="#111" stroke-width="1.3"/>
<circle cx="279.80" cy="520.85" r="2.5" fill="#111"/>
<circle cx="295.26" cy="517.36" r="2.5" fill="#111"/>
<circle cx="310.72" cy="522.59" r="2.5" fill="#111"/>
<circle cx="326.18" cy="522.59" r="2.5" fill="#111"/>
<circle cx="341.64" cy="518.06" r="2.5" fill="#111"/>
<circle cx="357.10" cy="506.19" r="2.5" fill="#111"/>
<circle cx="372.56" cy="495.72" r="2.5" fill="#111"/>
<circle cx="388.02" cy="497.12" r="2.5" fill="#111"/>
<circle cx="403.48" cy="506.19" r="2.5" fill="#111"/>
<circle cx="418.94" cy="502.00" r="2.5" fill="#111"/>
<circle cx="434.40" cy="481.41" r="2.5" fill="#111"/>
<circle cx="449.86" cy="466.41" r="2.5" fill="#111"/>
<circle cx="465.32" cy="435.00" r="2.5" fill="#111"/>
<circle cx="480.78" cy="417.89" r="2.5" fill="#111"/>
<circle cx="496.24" cy="448.61" r="2.5" fill="#111"/>
<circle cx="511.70" cy="459.43" r="2.5" fill="#111"/>
<circle cx="279.80" cy="520.85" r="2.1" fill="#fff" stroke="#111" stroke-width="1.05"/>
<circle cx="295.26" cy="520.50" r="2.1" fill="#fff" stroke="#111" stroke-width="1.05"/>
<circle cx="310.72" cy="522.59" r="2.1" fill="#fff" stroke="#111" stroke-width="1.05"/>
<circle cx="326.18" cy="522.59" r="2.1" fill="#fff" stroke="#111" stroke-width="1.05"/>
<circle cx="341.64" cy="520.50" r="2.1" fill="#fff" stroke="#111" stroke-width="1.05"/>
<circle cx="357.10" cy="513.17" r="2.1" fill="#fff" stroke="#111" stroke-width="1.05"/>
<circle cx="372.56" cy="513.17" r="2.1" fill="#fff" stroke="#111" stroke-width="1.05"/>
<circle cx="388.02" cy="506.19" r="2.1" fill="#fff" stroke="#111" stroke-width="1.05"/>
<circle cx="403.48" cy="510.03" r="2.1" fill="#fff" stroke="#111" stroke-width="1.05"/>
<circle cx="418.94" cy="519.45" r="2.1" fill="#fff" stroke="#111" stroke-width="1.05"/>
<circle cx="434.40" cy="520.15" r="2.1" fill="#fff" stroke="#111" stroke-width="1.05"/>
<circle cx="449.86" cy="513.17" r="2.1" fill="#fff" stroke="#111" stroke-width="1.05"/>
<circle cx="465.32" cy="502.00" r="2.1" fill="#fff" stroke="#111" stroke-width="1.05"/>
<circle cx="480.78" cy="466.41" r="2.1" fill="#fff" stroke="#111" stroke-width="1.05"/>
<circle cx="496.24" cy="445.47" r="2.1" fill="#fff" stroke="#111" stroke-width="1.05"/>
<circle cx="511.70" cy="449.65" r="2.1" fill="#fff" stroke="#111" stroke-width="1.05"/>
<polygon points="279.80,517.90 277.40,522.30 282.20,522.30" fill="#fff" stroke="#111" stroke-width="1.05" stroke-linejoin="round"/>
<polygon points="295.26,489.98 292.86,494.38 297.66,494.38" fill="#fff" stroke="#111" stroke-width="1.05" stroke-linejoin="round"/>
<polygon points="310.72,432.40 308.32,436.80 313.12,436.80" fill="#fff" stroke="#111" stroke-width="1.05" stroke-linejoin="round"/>
<polygon points="326.18,483.70 323.78,488.10 328.58,488.10" fill="#fff" stroke="#111" stroke-width="1.05" stroke-linejoin="round"/>
<polygon points="341.64,485.44 339.24,489.84 344.04,489.84" fill="#fff" stroke="#111" stroke-width="1.05" stroke-linejoin="round"/>
<polygon points="357.10,493.82 354.70,498.22 359.50,498.22" fill="#fff" stroke="#111" stroke-width="1.05" stroke-linejoin="round"/>
<polygon points="372.56,486.84 370.16,491.24 374.96,491.24" fill="#fff" stroke="#111" stroke-width="1.05" stroke-linejoin="round"/>
<polygon points="388.02,490.33 385.62,494.73 390.42,494.73" fill="#fff" stroke="#111" stroke-width="1.05" stroke-linejoin="round"/>
<polygon points="403.48,506.73 401.08,511.13 405.88,511.13" fill="#fff" stroke="#111" stroke-width="1.05" stroke-linejoin="round"/>
<polygon points="418.94,512.32 416.54,516.72 421.34,516.72" fill="#fff" stroke="#111" stroke-width="1.05" stroke-linejoin="round"/>
<polygon points="434.40,513.71 432.00,518.11 436.80,518.11" fill="#fff" stroke="#111" stroke-width="1.05" stroke-linejoin="round"/>
<polygon points="449.86,509.52 447.46,513.92 452.26,513.92" fill="#fff" stroke="#111" stroke-width="1.05" stroke-linejoin="round"/>
<polygon points="465.32,511.97 462.92,516.37 467.72,516.37" fill="#fff" stroke="#111" stroke-width="1.05" stroke-linejoin="round"/>
<polygon points="480.78,511.97 478.38,516.37 483.18,516.37" fill="#fff" stroke="#111" stroke-width="1.05" stroke-linejoin="round"/>
<polygon points="496.24,513.71 493.84,518.11 498.64,518.11" fill="#fff" stroke="#111" stroke-width="1.05" stroke-linejoin="round"/>
<polygon points="511.70,517.55 509.30,521.95 514.10,521.95" fill="#fff" stroke="#111" stroke-width="1.05" stroke-linejoin="round"/>
<ellipse cx="89.98" cy="401.00" rx="1.15" ry="1.0" fill="#000"/>
<ellipse cx="93.78" cy="401.00" rx="1.15" ry="1.0" fill="#000"/>
<ellipse cx="105.45" cy="426.00" rx="1.15" ry="1.0" fill="#000"/>
<ellipse cx="109.25" cy="426.00" rx="1.15" ry="1.0" fill="#000"/>
<ellipse cx="120.92" cy="428.00" rx="1.15" ry="1.0" fill="#000"/>
<ellipse cx="124.72" cy="428.00" rx="1.15" ry="1.0" fill="#000"/>
<ellipse cx="105.45" cy="452.00" rx="1.15" ry="1.0" fill="#000"/>
<ellipse cx="109.25" cy="452.00" rx="1.15" ry="1.0" fill="#000"/>
<ellipse cx="120.92" cy="462.00" rx="1.15" ry="1.0" fill="#000"/>
<ellipse cx="124.72" cy="462.00" rx="1.15" ry="1.0" fill="#000"/>
<ellipse cx="136.39" cy="452.50" rx="1.15" ry="1.0" fill="#000"/>
<ellipse cx="140.19" cy="452.50" rx="1.15" ry="1.0" fill="#000"/>
<ellipse cx="136.39" cy="476.00" rx="1.15" ry="1.0" fill="#000"/>
<ellipse cx="140.19" cy="476.00" rx="1.15" ry="1.0" fill="#000"/>
<ellipse cx="59.04" cy="445.00" rx="1.15" ry="1.0" fill="#000"/>
<ellipse cx="62.84" cy="445.00" rx="1.15" ry="1.0" fill="#000"/>
<ellipse cx="59.04" cy="461.00" rx="1.15" ry="1.0" fill="#000"/>
<ellipse cx="62.84" cy="461.00" rx="1.15" ry="1.0" fill="#000"/>
<ellipse cx="74.51" cy="441.00" rx="1.15" ry="1.0" fill="#000"/>
<ellipse cx="78.31" cy="441.00" rx="1.15" ry="1.0" fill="#000"/>
<ellipse cx="74.51" cy="466.50" rx="1.15" ry="1.0" fill="#000"/>
<ellipse cx="78.31" cy="466.50" rx="1.15" ry="1.0" fill="#000"/>
<ellipse cx="89.98" cy="469.00" rx="1.15" ry="1.0" fill="#000"/>
<ellipse cx="93.78" cy="469.00" rx="1.15" ry="1.0" fill="#000"/>
<ellipse cx="91.88" cy="497.00" rx="1.15" ry="1.0" fill="#000"/>
<ellipse cx="45.47" cy="481.00" rx="1.15" ry="1.0" fill="#000"/>
<ellipse cx="107.35" cy="478.00" rx="1.15" ry="1.0" fill="#000"/>
<ellipse cx="169.23" cy="464.00" rx="1.15" ry="1.0" fill="#000"/>
<ellipse cx="184.70" cy="477.50" rx="1.15" ry="1.0" fill="#000"/>
<ellipse cx="295.26" cy="469.00" rx="1.15" ry="1.0" fill="#000"/>
<ellipse cx="308.82" cy="417.00" rx="1.15" ry="1.0" fill="#000"/>
<ellipse cx="312.62" cy="417.00" rx="1.15" ry="1.0" fill="#000"/>
<ellipse cx="326.18" cy="468.50" rx="1.15" ry="1.0" fill="#000"/>
<ellipse cx="341.64" cy="468.00" rx="1.15" ry="1.0" fill="#000"/>
<ellipse cx="357.10" cy="481.00" rx="1.15" ry="1.0" fill="#000"/>
<ellipse cx="432.50" cy="466.00" rx="1.15" ry="1.0" fill="#000"/>
<ellipse cx="436.30" cy="466.00" rx="1.15" ry="1.0" fill="#000"/>
<ellipse cx="447.96" cy="452.50" rx="1.15" ry="1.0" fill="#000"/>
<ellipse cx="451.76" cy="452.50" rx="1.15" ry="1.0" fill="#000"/>
<ellipse cx="463.42" cy="426.50" rx="1.15" ry="1.0" fill="#000"/>
<ellipse cx="467.22" cy="426.50" rx="1.15" ry="1.0" fill="#000"/>
<ellipse cx="478.88" cy="404.00" rx="1.15" ry="1.0" fill="#000"/>
<ellipse cx="482.68" cy="404.00" rx="1.15" ry="1.0" fill="#000"/>
<ellipse cx="494.34" cy="432.00" rx="1.15" ry="1.0" fill="#000"/>
<ellipse cx="498.14" cy="432.00" rx="1.15" ry="1.0" fill="#000"/>
<ellipse cx="509.80" cy="441.00" rx="1.15" ry="1.0" fill="#000"/>
<ellipse cx="513.60" cy="441.00" rx="1.15" ry="1.0" fill="#000"/>
<ellipse cx="478.88" cy="453.00" rx="1.15" ry="1.0" fill="#000"/>
<ellipse cx="482.68" cy="453.00" rx="1.15" ry="1.0" fill="#000"/>
<ellipse cx="494.34" cy="457.00" rx="1.15" ry="1.0" fill="#000"/>
<ellipse cx="498.14" cy="457.00" rx="1.15" ry="1.0" fill="#000"/>
<ellipse cx="509.80" cy="467.00" rx="1.15" ry="1.0" fill="#000"/>
<ellipse cx="513.60" cy="467.00" rx="1.15" ry="1.0" fill="#000"/>
<line x1="182.00" y1="412.90" x2="199.50" y2="412.90" stroke="#111" stroke-width="1.3"/>
<polygon points="191,409.9 188,415.09999999999997 194,415.09999999999997" fill="#fff" stroke="#111" stroke-width="1"/>
<text x="201.30" y="415.40" font-size="8.1" text-anchor="start" font-weight="normal" fill="#111" stroke="#111" stroke-width="0.08" textLength="93.5" lengthAdjust="spacingAndGlyphs">cANGPTL4 &amp; Integrin α5β1</text>
<line x1="182.00" y1="425.00" x2="199.50" y2="425.00" stroke="#111" stroke-width="1.3"/>
<circle cx="191" cy="425.0" r="2.8" fill="#fff" stroke="#111" stroke-width="1"/>
<text x="201.30" y="427.50" font-size="8.1" text-anchor="start" font-weight="normal" fill="#111" stroke="#111" stroke-width="0.08" textLength="79.5" lengthAdjust="spacingAndGlyphs">cANGPTL4 &amp; claudin 5</text>
<line x1="182.00" y1="436.90" x2="199.50" y2="436.90" stroke="#111" stroke-width="1.3"/>
<circle cx="191" cy="436.9" r="3" fill="#111"/>
<text x="201.30" y="439.40" font-size="8.1" text-anchor="start" font-weight="normal" fill="#111" stroke="#111" stroke-width="0.08" textLength="91" lengthAdjust="spacingAndGlyphs">cANGPTL4 &amp; VE-cadherin</text>
</g>
</g>
</svg>
</body></html>
